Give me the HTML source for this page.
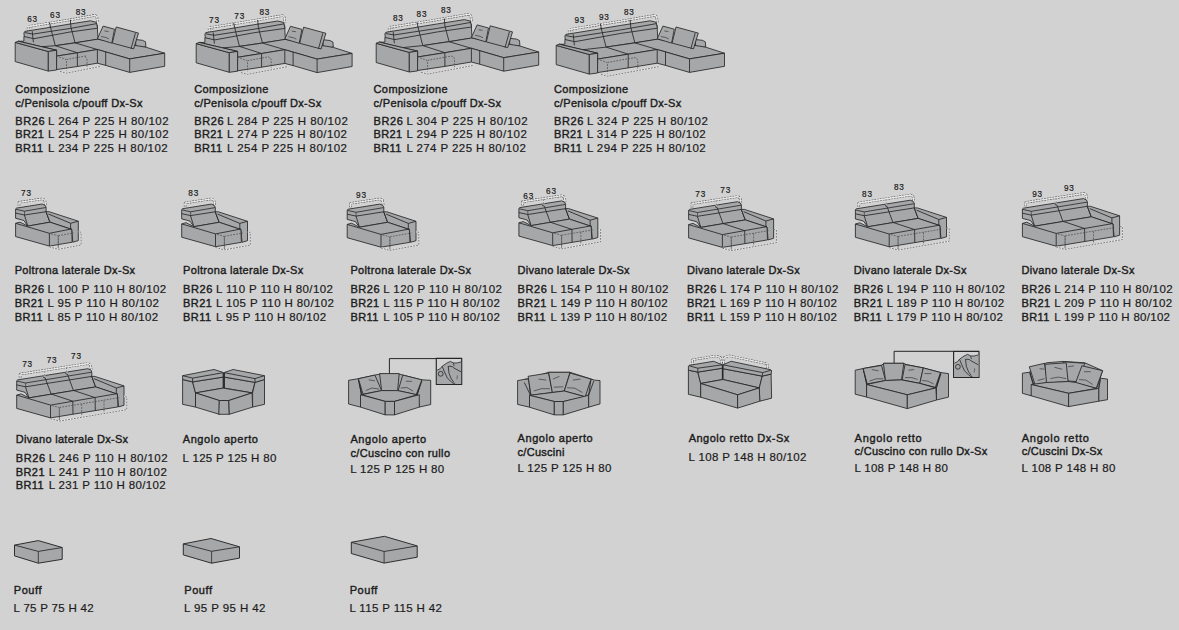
<!DOCTYPE html>
<html><head><meta charset="utf-8"><style>
html,body{margin:0;padding:0;background:#d2d2d2;}
body{width:1179px;height:630px;overflow:hidden;position:relative;}
svg{position:absolute;left:0;top:0;}
text{font-family:"Liberation Sans",sans-serif;fill:#1c1c1c;}
</style></head><body>
<svg width="1179" height="630" viewBox="0 0 1179 630">
<polyline points="28.3,31.5 28.1,26.5 49.0,23.2 70.0,19.8 93.5,15.6 95.5,15.5 96.8,17.0 97.6,22.5" fill="none" stroke="#555" stroke-width="2.5" stroke-dasharray="1.8 1.0" stroke-linejoin="round"/>
<polyline points="28.3,31.5 28.1,26.5 49.0,23.2 70.0,19.8 93.5,15.6 95.5,15.5 96.8,17.0 97.6,22.5" fill="none" stroke="#e8e8e8" stroke-width="1.3000000000000003" stroke-linejoin="round"/>
<polyline points="31.9,31.5 31.8,27.2" fill="none" stroke="#e6e6e6" stroke-width="1.5" stroke-linejoin="round"/>
<polyline points="31.9,31.5 31.8,27.2" fill="none" stroke="#484848" stroke-width="0.7" stroke-dasharray="1.8 1.2" stroke-linejoin="round"/>
<polyline points="49.5,22.8 50.0,28.0" fill="none" stroke="#e6e6e6" stroke-width="1.5" stroke-linejoin="round"/>
<polyline points="49.5,22.8 50.0,28.0" fill="none" stroke="#484848" stroke-width="0.7" stroke-dasharray="1.8 1.2" stroke-linejoin="round"/>
<polyline points="70.3,19.8 70.8,25.5" fill="none" stroke="#e6e6e6" stroke-width="1.5" stroke-linejoin="round"/>
<polyline points="70.3,19.8 70.8,25.5" fill="none" stroke="#484848" stroke-width="0.7" stroke-dasharray="1.8 1.2" stroke-linejoin="round"/>
<polygon points="23.9,36.5 49.0,32.5 70.0,29.5 97.2,25.0 98.0,39.3 55.3,45.7 56.6,50.2 18.1,41.2 23.9,41.2" fill="#a6a7a9" stroke="#262626" stroke-width="0.85" stroke-linejoin="round" />
<polygon points="23.9,33.0 24.8,31.4 49.0,27.5 70.0,24.0 90.5,20.8 96.3,22.3 97.6,28.2 70.0,32.0 33.8,38.7 24.3,36.6" fill="#a6a7a9" stroke="#262626" stroke-width="0.85" stroke-linejoin="round" />
<polyline points="24.8,32.6 33.0,34.1 49.0,31.6 70.0,28.5 96.8,23.6" fill="none" stroke="#262626" stroke-width="0.85" stroke-linejoin="round" />
<polyline points="32.2,31.2 33.4,42.4" fill="none" stroke="#262626" stroke-width="0.85" stroke-linejoin="round" />
<polyline points="49.6,22.5 51.3,30.5 55.3,45.7" fill="none" stroke="#262626" stroke-width="0.85" stroke-linejoin="round" />
<polyline points="70.3,19.8 71.0,27.5 75.1,42.9" fill="none" stroke="#262626" stroke-width="0.85" stroke-linejoin="round" />
<polygon points="135.5,39.5 142.5,40.3 145.5,41.8 145.9,46.8 135.9,48.5" fill="#a6a7a9" stroke="#262626" stroke-width="0.85" stroke-linejoin="round" />
<polygon points="56.6,50.2 42.0,46.7 55.3,45.7 75.1,42.9 97.5,39.2 145.9,47.2 164.7,53.2 129.7,58.9 97.4,49.5 77.4,52.8 56.6,56.1" fill="#a6a7a9" stroke="#262626" stroke-width="0.85" stroke-linejoin="round" />
<polyline points="55.3,45.7 77.4,52.8" fill="none" stroke="#262626" stroke-width="0.85" stroke-linejoin="round" />
<polyline points="75.1,42.9 97.4,49.5" fill="none" stroke="#262626" stroke-width="0.85" stroke-linejoin="round" />
<polygon points="56.6,56.1 77.4,52.8 97.4,49.5 129.7,58.9 164.7,53.2 164.7,66.3 129.7,72.4 105.7,65.4 97.4,63.2 77.4,66.5 56.4,69.6" fill="#a6a7a9" stroke="#262626" stroke-width="0.85" stroke-linejoin="round" />
<polyline points="77.4,52.8 77.4,66.5" fill="none" stroke="#262626" stroke-width="0.85" stroke-linejoin="round" />
<polyline points="97.4,49.5 97.4,63.2" fill="none" stroke="#262626" stroke-width="0.85" stroke-linejoin="round" />
<polyline points="105.7,51.9 105.7,65.4" fill="none" stroke="#262626" stroke-width="0.85" stroke-linejoin="round" />
<polyline points="129.7,58.9 129.7,72.4" fill="none" stroke="#262626" stroke-width="0.85" stroke-linejoin="round" />
<polygon points="15.2,42.4 48.3,51.5 48.3,71.1 15.2,61.6" fill="#a6a7a9" stroke="#262626" stroke-width="0.85" stroke-linejoin="round" />
<polygon points="15.2,42.4 18.1,41.2 56.6,50.2 48.3,51.5" fill="#a6a7a9" stroke="#262626" stroke-width="0.85" stroke-linejoin="round" />
<polygon points="48.3,51.5 56.6,50.2 56.6,70.0 48.3,71.1" fill="#a6a7a9" stroke="#262626" stroke-width="0.85" stroke-linejoin="round" />
<polygon points="103.1,26.1 114.5,29.2 111.8,43.1 97.4,38.8" fill="#a6a7a9" stroke="#262626" stroke-width="0.85" stroke-linejoin="round" />
<polyline points="104.5,31.0 108.5,31.5" fill="none" stroke="#262626" stroke-width="0.6" stroke-linejoin="round" />
<polyline points="101.0,36.5 106.0,37.5 109.0,39.0" fill="none" stroke="#262626" stroke-width="0.6" stroke-linejoin="round" />
<polygon points="116.2,27.0 138.5,33.1 133.7,48.8 112.3,43.1" fill="#a6a7a9" stroke="#262626" stroke-width="0.85" stroke-linejoin="round" />
<polyline points="135.4,33.1 131.0,48.8" fill="none" stroke="#262626" stroke-width="0.85" stroke-linejoin="round" />
<polyline points="59.2,57.0 65.5,59.2 66.5,60.5 66.5,70.5" fill="none" stroke="#484848" stroke-width="0.7" stroke-dasharray="1.8 1.2" stroke-linejoin="round"/>
<polyline points="60.0,71.4 66.5,73.2 100.0,66.5" fill="none" stroke="#e6e6e6" stroke-width="1.5" stroke-linejoin="round"/>
<polyline points="60.0,71.4 66.5,73.2 100.0,66.5" fill="none" stroke="#484848" stroke-width="0.7" stroke-dasharray="1.8 1.2" stroke-linejoin="round"/>
<polyline points="66.5,59.5 85.5,56.0 84.5,56.2 86.3,57.5 87.0,59.2 87.0,67.2" fill="none" stroke="#484848" stroke-width="0.7" stroke-dasharray="1.8 1.2" stroke-linejoin="round"/>
<text x="27.2" y="21.8" font-size="8.2" stroke="#1c1c1c" stroke-width="0.2" textLength="9.9" lengthAdjust="spacing">63</text>
<text x="50.1" y="17.6" font-size="8.2" stroke="#1c1c1c" stroke-width="0.2" textLength="9.9" lengthAdjust="spacing">63</text>
<text x="75.7" y="14.9" font-size="8.2" stroke="#1c1c1c" stroke-width="0.2" textLength="9.9" lengthAdjust="spacing">83</text>
<polyline points="209.3,32.7 209.1,27.7 230.0,24.4 254.2,20.5 280.9,15.8 282.9,15.7 284.2,17.2 285.0,22.7" fill="none" stroke="#555" stroke-width="2.5" stroke-dasharray="1.8 1.0" stroke-linejoin="round"/>
<polyline points="209.3,32.7 209.1,27.7 230.0,24.4 254.2,20.5 280.9,15.8 282.9,15.7 284.2,17.2 285.0,22.7" fill="none" stroke="#e8e8e8" stroke-width="1.3000000000000003" stroke-linejoin="round"/>
<polyline points="212.9,32.7 212.8,28.4" fill="none" stroke="#e6e6e6" stroke-width="1.5" stroke-linejoin="round"/>
<polyline points="212.9,32.7 212.8,28.4" fill="none" stroke="#484848" stroke-width="0.7" stroke-dasharray="1.8 1.2" stroke-linejoin="round"/>
<polyline points="233.7,23.5 234.2,28.7" fill="none" stroke="#e6e6e6" stroke-width="1.5" stroke-linejoin="round"/>
<polyline points="233.7,23.5 234.2,28.7" fill="none" stroke="#484848" stroke-width="0.7" stroke-dasharray="1.8 1.2" stroke-linejoin="round"/>
<polyline points="257.7,20.0 258.2,25.7" fill="none" stroke="#e6e6e6" stroke-width="1.5" stroke-linejoin="round"/>
<polyline points="257.7,20.0 258.2,25.7" fill="none" stroke="#484848" stroke-width="0.7" stroke-dasharray="1.8 1.2" stroke-linejoin="round"/>
<polygon points="204.9,37.7 230.0,33.7 254.2,30.2 284.6,25.2 285.4,39.5 239.5,46.4 237.6,51.4 199.1,42.4 204.9,42.4" fill="#a6a7a9" stroke="#262626" stroke-width="0.85" stroke-linejoin="round" />
<polygon points="204.9,34.2 205.8,32.6 230.0,28.7 254.2,24.7 277.9,21.0 283.7,22.5 285.0,28.4 254.2,32.7 214.8,39.9 205.3,37.8" fill="#a6a7a9" stroke="#262626" stroke-width="0.85" stroke-linejoin="round" />
<polyline points="205.8,33.8 214.0,35.3 230.0,32.8 254.2,29.2 284.2,23.8" fill="none" stroke="#262626" stroke-width="0.85" stroke-linejoin="round" />
<polyline points="213.2,32.4 214.4,43.6" fill="none" stroke="#262626" stroke-width="0.85" stroke-linejoin="round" />
<polyline points="233.8,23.2 235.5,31.2 239.5,46.4" fill="none" stroke="#262626" stroke-width="0.85" stroke-linejoin="round" />
<polyline points="257.7,20.0 258.4,27.7 262.5,43.1" fill="none" stroke="#262626" stroke-width="0.85" stroke-linejoin="round" />
<polygon points="322.9,39.7 329.9,40.5 332.9,42.0 333.3,47.0 323.3,48.7" fill="#a6a7a9" stroke="#262626" stroke-width="0.85" stroke-linejoin="round" />
<polygon points="237.6,51.4 223.0,47.9 239.5,46.4 262.5,43.1 284.9,39.4 333.3,47.4 352.1,53.4 317.1,59.1 284.8,49.7 261.6,53.5 237.6,57.3" fill="#a6a7a9" stroke="#262626" stroke-width="0.85" stroke-linejoin="round" />
<polyline points="239.5,46.4 261.6,53.5" fill="none" stroke="#262626" stroke-width="0.85" stroke-linejoin="round" />
<polyline points="262.5,43.1 284.8,49.7" fill="none" stroke="#262626" stroke-width="0.85" stroke-linejoin="round" />
<polygon points="237.6,57.3 261.6,53.5 284.8,49.7 317.1,59.1 352.1,53.4 352.1,66.5 317.1,72.6 293.1,65.6 284.8,63.4 261.6,67.2 237.4,70.8" fill="#a6a7a9" stroke="#262626" stroke-width="0.85" stroke-linejoin="round" />
<polyline points="261.6,53.5 261.6,67.2" fill="none" stroke="#262626" stroke-width="0.85" stroke-linejoin="round" />
<polyline points="284.8,49.7 284.8,63.4" fill="none" stroke="#262626" stroke-width="0.85" stroke-linejoin="round" />
<polyline points="293.1,52.1 293.1,65.6" fill="none" stroke="#262626" stroke-width="0.85" stroke-linejoin="round" />
<polyline points="317.1,59.1 317.1,72.6" fill="none" stroke="#262626" stroke-width="0.85" stroke-linejoin="round" />
<polygon points="196.2,43.6 229.3,52.7 229.3,72.3 196.2,62.8" fill="#a6a7a9" stroke="#262626" stroke-width="0.85" stroke-linejoin="round" />
<polygon points="196.2,43.6 199.1,42.4 237.6,51.4 229.3,52.7" fill="#a6a7a9" stroke="#262626" stroke-width="0.85" stroke-linejoin="round" />
<polygon points="229.3,52.7 237.6,51.4 237.6,71.2 229.3,72.3" fill="#a6a7a9" stroke="#262626" stroke-width="0.85" stroke-linejoin="round" />
<polygon points="290.5,26.3 301.9,29.4 299.2,43.3 284.8,39.0" fill="#a6a7a9" stroke="#262626" stroke-width="0.85" stroke-linejoin="round" />
<polyline points="291.9,31.2 295.9,31.7" fill="none" stroke="#262626" stroke-width="0.6" stroke-linejoin="round" />
<polyline points="288.4,36.7 293.4,37.7 296.4,39.2" fill="none" stroke="#262626" stroke-width="0.6" stroke-linejoin="round" />
<polygon points="303.6,27.2 325.9,33.3 321.1,49.0 299.7,43.3" fill="#a6a7a9" stroke="#262626" stroke-width="0.85" stroke-linejoin="round" />
<polyline points="322.8,33.3 318.4,49.0" fill="none" stroke="#262626" stroke-width="0.85" stroke-linejoin="round" />
<polyline points="240.2,58.2 246.5,60.4 247.5,61.7 247.5,71.7" fill="none" stroke="#484848" stroke-width="0.7" stroke-dasharray="1.8 1.2" stroke-linejoin="round"/>
<polyline points="241.0,72.6 247.5,74.4 287.4,66.7" fill="none" stroke="#e6e6e6" stroke-width="1.5" stroke-linejoin="round"/>
<polyline points="241.0,72.6 247.5,74.4 287.4,66.7" fill="none" stroke="#484848" stroke-width="0.7" stroke-dasharray="1.8 1.2" stroke-linejoin="round"/>
<polyline points="247.5,60.7 266.5,57.2 268.7,56.9 270.5,58.2 271.2,59.9 271.2,67.9" fill="none" stroke="#484848" stroke-width="0.7" stroke-dasharray="1.8 1.2" stroke-linejoin="round"/>
<text x="209.1" y="22.6" font-size="8.2" stroke="#1c1c1c" stroke-width="0.2" textLength="9.9" lengthAdjust="spacing">73</text>
<text x="234.3" y="19.0" font-size="8.2" stroke="#1c1c1c" stroke-width="0.2" textLength="9.9" lengthAdjust="spacing">73</text>
<text x="259.5" y="14.5" font-size="8.2" stroke="#1c1c1c" stroke-width="0.2" textLength="9.9" lengthAdjust="spacing">83</text>
<polyline points="389.3,32.4 389.1,27.4 410.0,24.1 437.5,19.7 467.5,14.4 469.5,14.3 470.8,15.8 471.6,21.3" fill="none" stroke="#555" stroke-width="2.5" stroke-dasharray="1.8 1.0" stroke-linejoin="round"/>
<polyline points="389.3,32.4 389.1,27.4 410.0,24.1 437.5,19.7 467.5,14.4 469.5,14.3 470.8,15.8 471.6,21.3" fill="none" stroke="#e8e8e8" stroke-width="1.3000000000000003" stroke-linejoin="round"/>
<polyline points="392.9,32.4 392.8,28.1" fill="none" stroke="#e6e6e6" stroke-width="1.5" stroke-linejoin="round"/>
<polyline points="392.9,32.4 392.8,28.1" fill="none" stroke="#484848" stroke-width="0.7" stroke-dasharray="1.8 1.2" stroke-linejoin="round"/>
<polyline points="417.0,22.7 417.5,27.9" fill="none" stroke="#e6e6e6" stroke-width="1.5" stroke-linejoin="round"/>
<polyline points="417.0,22.7 417.5,27.9" fill="none" stroke="#484848" stroke-width="0.7" stroke-dasharray="1.8 1.2" stroke-linejoin="round"/>
<polyline points="444.3,18.6 444.8,24.3" fill="none" stroke="#e6e6e6" stroke-width="1.5" stroke-linejoin="round"/>
<polyline points="444.3,18.6 444.8,24.3" fill="none" stroke="#484848" stroke-width="0.7" stroke-dasharray="1.8 1.2" stroke-linejoin="round"/>
<polygon points="384.9,37.4 410.0,33.4 437.5,29.4 471.2,23.8 472.0,38.1 422.8,45.6 417.6,51.1 379.1,42.1 384.9,42.1" fill="#a6a7a9" stroke="#262626" stroke-width="0.85" stroke-linejoin="round" />
<polygon points="384.9,33.9 385.8,32.3 410.0,28.4 437.5,23.9 464.5,19.6 470.3,21.1 471.6,27.0 437.5,31.9 394.8,39.6 385.3,37.5" fill="#a6a7a9" stroke="#262626" stroke-width="0.85" stroke-linejoin="round" />
<polyline points="385.8,33.5 394.0,35.0 410.0,32.5 437.5,28.4 470.8,22.4" fill="none" stroke="#262626" stroke-width="0.85" stroke-linejoin="round" />
<polyline points="393.2,32.1 394.4,43.3" fill="none" stroke="#262626" stroke-width="0.85" stroke-linejoin="round" />
<polyline points="417.1,22.4 418.8,30.4 422.8,45.6" fill="none" stroke="#262626" stroke-width="0.85" stroke-linejoin="round" />
<polyline points="444.3,18.6 445.0,26.3 449.1,41.7" fill="none" stroke="#262626" stroke-width="0.85" stroke-linejoin="round" />
<polygon points="509.5,38.3 516.5,39.1 519.5,40.6 519.9,45.6 509.9,47.3" fill="#a6a7a9" stroke="#262626" stroke-width="0.85" stroke-linejoin="round" />
<polygon points="417.6,51.1 403.0,47.6 422.8,45.6 449.1,41.7 471.5,38.0 519.9,46.0 538.7,52.0 503.7,57.7 471.4,48.3 444.9,52.7 417.6,57.0" fill="#a6a7a9" stroke="#262626" stroke-width="0.85" stroke-linejoin="round" />
<polyline points="422.8,45.6 444.9,52.7" fill="none" stroke="#262626" stroke-width="0.85" stroke-linejoin="round" />
<polyline points="449.1,41.7 471.4,48.3" fill="none" stroke="#262626" stroke-width="0.85" stroke-linejoin="round" />
<polygon points="417.6,57.0 444.9,52.7 471.4,48.3 503.7,57.7 538.7,52.0 538.7,65.1 503.7,71.2 479.7,64.2 471.4,62.0 444.9,66.4 417.4,70.5" fill="#a6a7a9" stroke="#262626" stroke-width="0.85" stroke-linejoin="round" />
<polyline points="444.9,52.7 444.9,66.4" fill="none" stroke="#262626" stroke-width="0.85" stroke-linejoin="round" />
<polyline points="471.4,48.3 471.4,62.0" fill="none" stroke="#262626" stroke-width="0.85" stroke-linejoin="round" />
<polyline points="479.7,50.7 479.7,64.2" fill="none" stroke="#262626" stroke-width="0.85" stroke-linejoin="round" />
<polyline points="503.7,57.7 503.7,71.2" fill="none" stroke="#262626" stroke-width="0.85" stroke-linejoin="round" />
<polygon points="376.2,43.3 409.3,52.4 409.3,72.0 376.2,62.5" fill="#a6a7a9" stroke="#262626" stroke-width="0.85" stroke-linejoin="round" />
<polygon points="376.2,43.3 379.1,42.1 417.6,51.1 409.3,52.4" fill="#a6a7a9" stroke="#262626" stroke-width="0.85" stroke-linejoin="round" />
<polygon points="409.3,52.4 417.6,51.1 417.6,70.9 409.3,72.0" fill="#a6a7a9" stroke="#262626" stroke-width="0.85" stroke-linejoin="round" />
<polygon points="477.1,24.9 488.5,28.0 485.8,41.9 471.4,37.6" fill="#a6a7a9" stroke="#262626" stroke-width="0.85" stroke-linejoin="round" />
<polyline points="478.5,29.8 482.5,30.3" fill="none" stroke="#262626" stroke-width="0.6" stroke-linejoin="round" />
<polyline points="475.0,35.3 480.0,36.3 483.0,37.8" fill="none" stroke="#262626" stroke-width="0.6" stroke-linejoin="round" />
<polygon points="490.2,25.8 512.5,31.9 507.7,47.6 486.3,41.9" fill="#a6a7a9" stroke="#262626" stroke-width="0.85" stroke-linejoin="round" />
<polyline points="509.4,31.9 505.0,47.6" fill="none" stroke="#262626" stroke-width="0.85" stroke-linejoin="round" />
<polyline points="420.2,57.9 426.5,60.1 427.5,61.4 427.5,71.4" fill="none" stroke="#484848" stroke-width="0.7" stroke-dasharray="1.8 1.2" stroke-linejoin="round"/>
<polyline points="421.0,72.3 427.5,74.1 474.0,65.3" fill="none" stroke="#e6e6e6" stroke-width="1.5" stroke-linejoin="round"/>
<polyline points="421.0,72.3 427.5,74.1 474.0,65.3" fill="none" stroke="#484848" stroke-width="0.7" stroke-dasharray="1.8 1.2" stroke-linejoin="round"/>
<polyline points="427.5,60.4 446.5,56.9 452.0,56.1 453.8,57.4 454.5,59.1 454.5,67.1" fill="none" stroke="#484848" stroke-width="0.7" stroke-dasharray="1.8 1.2" stroke-linejoin="round"/>
<text x="392.9" y="21.0" font-size="8.2" stroke="#1c1c1c" stroke-width="0.2" textLength="9.9" lengthAdjust="spacing">83</text>
<text x="416.6" y="17.2" font-size="8.2" stroke="#1c1c1c" stroke-width="0.2" textLength="9.9" lengthAdjust="spacing">83</text>
<text x="441.0" y="12.9" font-size="8.2" stroke="#1c1c1c" stroke-width="0.2" textLength="9.9" lengthAdjust="spacing">83</text>
<polyline points="19.0,206.1 19.0,202.3 42.5,198.8 44.8,200.3 45.6,205.3" fill="none" stroke="#555" stroke-width="2.5" stroke-dasharray="1.8 1.0" stroke-linejoin="round"/>
<polyline points="19.0,206.1 19.0,202.3 42.5,198.8 44.8,200.3 45.6,205.3" fill="none" stroke="#e8e8e8" stroke-width="1.3000000000000003" stroke-linejoin="round"/>
<polygon points="15.6,208.9 16.5,208.1 42.1,204.0 45.1,205.3 46.1,207.3 46.1,211.7 50.0,222.2 27.8,226.1 23.9,220.6 21.1,219.7 15.6,218.3" fill="#a6a7a9" stroke="#262626" stroke-width="0.85" stroke-linejoin="round" />
<polyline points="15.6,213.1 24.5,215.0 46.1,211.7" fill="none" stroke="#262626" stroke-width="0.85" stroke-linejoin="round" />
<polyline points="15.9,209.3 24.5,211.2 45.9,207.5" fill="none" stroke="#262626" stroke-width="0.8" stroke-linejoin="round" />
<polyline points="24.4,215.0 27.8,226.1" fill="none" stroke="#262626" stroke-width="0.85" stroke-linejoin="round" />
<polyline points="24.5,211.2 24.5,215.0" fill="none" stroke="#262626" stroke-width="0.6" stroke-linejoin="round" />
<polyline points="46.1,211.7 50.0,222.2" fill="none" stroke="#262626" stroke-width="0.85" stroke-linejoin="round" />
<polygon points="46.1,211.7 49.1,211.7 78.3,221.2 78.3,240.6 72.8,242.2 71.7,229.4 50.0,222.2" fill="#a6a7a9" stroke="#262626" stroke-width="0.85" stroke-linejoin="round" />
<polyline points="48.4,214.0 70.6,223.3 78.3,221.2" fill="none" stroke="#262626" stroke-width="0.85" stroke-linejoin="round" />
<polyline points="70.6,223.3 70.6,229.8" fill="none" stroke="#262626" stroke-width="0.85" stroke-linejoin="round" />
<polygon points="15.6,223.3 20.0,222.1 27.8,226.1 50.0,222.2 71.7,229.4 72.2,242.2 49.4,246.1 15.6,236.6" fill="#a6a7a9" stroke="#262626" stroke-width="0.85" stroke-linejoin="round" />
<polyline points="15.6,223.3 49.4,233.3 71.7,228.9" fill="none" stroke="#262626" stroke-width="0.85" stroke-linejoin="round" />
<polyline points="49.4,233.3 49.4,246.1" fill="none" stroke="#262626" stroke-width="0.85" stroke-linejoin="round" />
<polyline points="58.3,235.9 58.3,248.3" fill="none" stroke="#484848" stroke-width="0.7" stroke-dasharray="1.8 1.2" stroke-linejoin="round"/>
<polyline points="51.1,233.9 57.2,235.4 58.3,236.8 58.3,248.3" fill="none" stroke="#484848" stroke-width="0.7" stroke-dasharray="1.8 1.2" stroke-linejoin="round"/>
<polyline points="49.4,246.9 58.3,249.3 81.1,245.0 81.1,232.3 78.6,231.6" fill="none" stroke="#e6e6e6" stroke-width="1.5" stroke-linejoin="round"/>
<polyline points="49.4,246.9 58.3,249.3 81.1,245.0 81.1,232.3 78.6,231.6" fill="none" stroke="#484848" stroke-width="0.7" stroke-dasharray="1.8 1.2" stroke-linejoin="round"/>
<polyline points="58.3,235.7 73.6,232.9" fill="none" stroke="#484848" stroke-width="0.7" stroke-dasharray="1.8 1.2" stroke-linejoin="round"/>
<text x="21.1" y="196.1" font-size="8.2" stroke="#1c1c1c" stroke-width="0.2" textLength="9.9" lengthAdjust="spacing">73</text>
<polyline points="185.1,206.7 185.1,202.9 211.7,198.9 214.0,200.4 214.8,205.4" fill="none" stroke="#555" stroke-width="2.5" stroke-dasharray="1.8 1.0" stroke-linejoin="round"/>
<polyline points="185.1,206.7 185.1,202.9 211.7,198.9 214.0,200.4 214.8,205.4" fill="none" stroke="#e8e8e8" stroke-width="1.3000000000000003" stroke-linejoin="round"/>
<polygon points="181.7,209.5 182.6,208.7 211.3,204.1 214.3,205.4 215.3,207.4 215.3,211.8 219.2,222.3 193.9,226.7 190.0,221.2 187.2,220.3 181.7,218.9" fill="#a6a7a9" stroke="#262626" stroke-width="0.85" stroke-linejoin="round" />
<polyline points="181.7,213.7 190.6,215.6 215.3,211.8" fill="none" stroke="#262626" stroke-width="0.85" stroke-linejoin="round" />
<polyline points="182.0,209.9 190.6,211.8 215.1,207.6" fill="none" stroke="#262626" stroke-width="0.8" stroke-linejoin="round" />
<polyline points="190.5,215.6 193.9,226.7" fill="none" stroke="#262626" stroke-width="0.85" stroke-linejoin="round" />
<polyline points="190.6,211.8 190.6,215.6" fill="none" stroke="#262626" stroke-width="0.6" stroke-linejoin="round" />
<polyline points="215.3,211.8 219.2,222.3" fill="none" stroke="#262626" stroke-width="0.85" stroke-linejoin="round" />
<polygon points="215.3,211.8 218.3,211.8 247.5,221.3 247.5,240.7 242.0,242.3 240.9,229.5 219.2,222.3" fill="#a6a7a9" stroke="#262626" stroke-width="0.85" stroke-linejoin="round" />
<polyline points="217.6,214.1 239.8,223.4 247.5,221.3" fill="none" stroke="#262626" stroke-width="0.85" stroke-linejoin="round" />
<polyline points="239.8,223.4 239.8,229.9" fill="none" stroke="#262626" stroke-width="0.85" stroke-linejoin="round" />
<polygon points="181.7,223.9 186.1,222.7 193.9,226.7 219.2,222.3 240.9,229.5 241.4,242.3 215.5,246.7 181.7,237.2" fill="#a6a7a9" stroke="#262626" stroke-width="0.85" stroke-linejoin="round" />
<polyline points="181.7,223.9 215.5,233.9 240.9,229.0" fill="none" stroke="#262626" stroke-width="0.85" stroke-linejoin="round" />
<polyline points="215.5,233.9 215.5,246.7" fill="none" stroke="#262626" stroke-width="0.85" stroke-linejoin="round" />
<polyline points="224.4,236.5 224.4,248.9" fill="none" stroke="#484848" stroke-width="0.7" stroke-dasharray="1.8 1.2" stroke-linejoin="round"/>
<polyline points="217.2,234.5 223.3,236.0 224.4,237.4 224.4,248.9" fill="none" stroke="#484848" stroke-width="0.7" stroke-dasharray="1.8 1.2" stroke-linejoin="round"/>
<polyline points="215.5,247.5 224.4,249.9 250.3,245.1 250.3,232.4 247.8,231.7" fill="none" stroke="#e6e6e6" stroke-width="1.5" stroke-linejoin="round"/>
<polyline points="215.5,247.5 224.4,249.9 250.3,245.1 250.3,232.4 247.8,231.7" fill="none" stroke="#484848" stroke-width="0.7" stroke-dasharray="1.8 1.2" stroke-linejoin="round"/>
<polyline points="224.4,236.3 242.8,233.0" fill="none" stroke="#484848" stroke-width="0.7" stroke-dasharray="1.8 1.2" stroke-linejoin="round"/>
<text x="188.3" y="195.6" font-size="8.2" stroke="#1c1c1c" stroke-width="0.2" textLength="9.9" lengthAdjust="spacing">83</text>
<polyline points="350.6,207.2 350.6,203.4 380.2,198.9 382.5,200.4 383.3,205.4" fill="none" stroke="#555" stroke-width="2.5" stroke-dasharray="1.8 1.0" stroke-linejoin="round"/>
<polyline points="350.6,207.2 350.6,203.4 380.2,198.9 382.5,200.4 383.3,205.4" fill="none" stroke="#e8e8e8" stroke-width="1.3000000000000003" stroke-linejoin="round"/>
<polygon points="347.2,210.0 348.1,209.2 379.8,204.1 382.8,205.4 383.8,207.4 383.8,211.8 387.7,222.3 359.4,227.2 355.5,221.7 352.7,220.8 347.2,219.4" fill="#a6a7a9" stroke="#262626" stroke-width="0.85" stroke-linejoin="round" />
<polyline points="347.2,214.2 356.1,216.1 383.8,211.8" fill="none" stroke="#262626" stroke-width="0.85" stroke-linejoin="round" />
<polyline points="347.5,210.4 356.1,212.3 383.6,207.6" fill="none" stroke="#262626" stroke-width="0.8" stroke-linejoin="round" />
<polyline points="356.0,216.1 359.4,227.2" fill="none" stroke="#262626" stroke-width="0.85" stroke-linejoin="round" />
<polyline points="356.1,212.3 356.1,216.1" fill="none" stroke="#262626" stroke-width="0.6" stroke-linejoin="round" />
<polyline points="383.8,211.8 387.7,222.3" fill="none" stroke="#262626" stroke-width="0.85" stroke-linejoin="round" />
<polygon points="383.8,211.8 386.8,211.8 416.0,221.3 416.0,240.7 410.5,242.3 409.4,229.5 387.7,222.3" fill="#a6a7a9" stroke="#262626" stroke-width="0.85" stroke-linejoin="round" />
<polyline points="386.1,214.1 408.3,223.4 416.0,221.3" fill="none" stroke="#262626" stroke-width="0.85" stroke-linejoin="round" />
<polyline points="408.3,223.4 408.3,229.9" fill="none" stroke="#262626" stroke-width="0.85" stroke-linejoin="round" />
<polygon points="347.2,224.4 351.6,223.2 359.4,227.2 387.7,222.3 409.4,229.5 409.9,242.3 381.0,247.2 347.2,237.7" fill="#a6a7a9" stroke="#262626" stroke-width="0.85" stroke-linejoin="round" />
<polyline points="347.2,224.4 381.0,234.4 409.4,229.0" fill="none" stroke="#262626" stroke-width="0.85" stroke-linejoin="round" />
<polyline points="381.0,234.4 381.0,247.2" fill="none" stroke="#262626" stroke-width="0.85" stroke-linejoin="round" />
<polyline points="389.9,237.0 389.9,249.4" fill="none" stroke="#484848" stroke-width="0.7" stroke-dasharray="1.8 1.2" stroke-linejoin="round"/>
<polyline points="382.7,235.0 388.8,236.5 389.9,237.9 389.9,249.4" fill="none" stroke="#484848" stroke-width="0.7" stroke-dasharray="1.8 1.2" stroke-linejoin="round"/>
<polyline points="381.0,248.0 389.9,250.4 418.8,245.1 418.8,232.4 416.3,231.7" fill="none" stroke="#e6e6e6" stroke-width="1.5" stroke-linejoin="round"/>
<polyline points="381.0,248.0 389.9,250.4 418.8,245.1 418.8,232.4 416.3,231.7" fill="none" stroke="#484848" stroke-width="0.7" stroke-dasharray="1.8 1.2" stroke-linejoin="round"/>
<polyline points="389.9,236.8 411.3,233.0" fill="none" stroke="#484848" stroke-width="0.7" stroke-dasharray="1.8 1.2" stroke-linejoin="round"/>
<text x="356.1" y="197.8" font-size="8.2" stroke="#1c1c1c" stroke-width="0.2" textLength="9.9" lengthAdjust="spacing">93</text>
<polyline points="522.3,205.6 522.3,201.8 562.0,195.7 564.3,197.2 565.1,202.2" fill="none" stroke="#555" stroke-width="2.5" stroke-dasharray="1.8 1.0" stroke-linejoin="round"/>
<polyline points="522.3,205.6 522.3,201.8 562.0,195.7 564.3,197.2 565.1,202.2" fill="none" stroke="#e8e8e8" stroke-width="1.3000000000000003" stroke-linejoin="round"/>
<polygon points="518.9,208.4 519.8,207.6 561.6,200.9 564.6,202.2 565.6,204.2 565.6,208.6 569.5,219.1 531.1,225.6 527.2,220.1 524.4,219.2 518.9,217.8" fill="#a6a7a9" stroke="#262626" stroke-width="0.85" stroke-linejoin="round" />
<polyline points="518.9,212.6 527.8,214.5 565.6,208.6" fill="none" stroke="#262626" stroke-width="0.85" stroke-linejoin="round" />
<polyline points="519.2,208.8 527.8,210.7 565.4,204.4" fill="none" stroke="#262626" stroke-width="0.8" stroke-linejoin="round" />
<polyline points="527.7,214.5 531.1,225.6" fill="none" stroke="#262626" stroke-width="0.85" stroke-linejoin="round" />
<polyline points="527.8,210.7 527.8,214.5" fill="none" stroke="#262626" stroke-width="0.6" stroke-linejoin="round" />
<polyline points="565.6,208.6 569.5,219.1" fill="none" stroke="#262626" stroke-width="0.85" stroke-linejoin="round" />
<polygon points="565.6,208.6 568.6,208.6 597.8,218.1 597.8,237.5 592.3,239.1 591.2,226.3 569.5,219.1" fill="#a6a7a9" stroke="#262626" stroke-width="0.85" stroke-linejoin="round" />
<polyline points="567.9,210.9 590.1,220.2 597.8,218.1" fill="none" stroke="#262626" stroke-width="0.85" stroke-linejoin="round" />
<polyline points="590.1,220.2 590.1,226.7" fill="none" stroke="#262626" stroke-width="0.85" stroke-linejoin="round" />
<polygon points="518.9,222.8 523.3,221.6 531.1,225.6 569.5,219.1 591.2,226.3 591.7,239.1 552.7,245.6 518.9,236.1" fill="#a6a7a9" stroke="#262626" stroke-width="0.85" stroke-linejoin="round" />
<polyline points="518.9,222.8 552.7,232.8 591.2,225.8" fill="none" stroke="#262626" stroke-width="0.85" stroke-linejoin="round" />
<polyline points="552.7,232.8 552.7,245.6" fill="none" stroke="#262626" stroke-width="0.85" stroke-linejoin="round" />
<polyline points="542.2,205.3 544.4,206.3 546.3,211.7 550.2,222.2 571.9,229.4 572.1,242.3" fill="none" stroke="#262626" stroke-width="0.85" stroke-linejoin="round" />
<polyline points="543.2,199.2 543.7,204.3" fill="none" stroke="#e6e6e6" stroke-width="1.5" stroke-linejoin="round"/>
<polyline points="543.2,199.2 543.7,204.3" fill="none" stroke="#484848" stroke-width="0.7" stroke-dasharray="1.8 1.2" stroke-linejoin="round"/>
<polyline points="561.6,235.4 561.6,247.8" fill="none" stroke="#484848" stroke-width="0.7" stroke-dasharray="1.8 1.2" stroke-linejoin="round"/>
<polyline points="554.4,233.4 560.5,234.9 561.6,236.3 561.6,247.8" fill="none" stroke="#484848" stroke-width="0.7" stroke-dasharray="1.8 1.2" stroke-linejoin="round"/>
<polyline points="580.8,232.3 580.8,244.7" fill="none" stroke="#484848" stroke-width="0.7" stroke-dasharray="1.8 1.2" stroke-linejoin="round"/>
<polyline points="552.7,246.4 561.6,248.8 600.6,241.9 600.6,229.2 598.1,228.5" fill="none" stroke="#e6e6e6" stroke-width="1.5" stroke-linejoin="round"/>
<polyline points="552.7,246.4 561.6,248.8 600.6,241.9 600.6,229.2 598.1,228.5" fill="none" stroke="#484848" stroke-width="0.7" stroke-dasharray="1.8 1.2" stroke-linejoin="round"/>
<polyline points="561.6,235.2 593.1,229.8" fill="none" stroke="#484848" stroke-width="0.7" stroke-dasharray="1.8 1.2" stroke-linejoin="round"/>
<text x="523.3" y="198.9" font-size="8.2" stroke="#1c1c1c" stroke-width="0.2" textLength="9.9" lengthAdjust="spacing">63</text>
<text x="546.1" y="193.9" font-size="8.2" stroke="#1c1c1c" stroke-width="0.2" textLength="9.9" lengthAdjust="spacing">63</text>
<polyline points="692.0,207.4 692.0,203.6 737.8,196.5 740.1,198.0 740.9,203.0" fill="none" stroke="#555" stroke-width="2.5" stroke-dasharray="1.8 1.0" stroke-linejoin="round"/>
<polyline points="692.0,207.4 692.0,203.6 737.8,196.5 740.1,198.0 740.9,203.0" fill="none" stroke="#e8e8e8" stroke-width="1.3000000000000003" stroke-linejoin="round"/>
<polygon points="688.6,210.2 689.5,209.4 737.4,201.7 740.4,203.0 741.4,205.0 741.4,209.4 745.3,219.9 700.8,227.4 696.9,221.9 694.1,221.0 688.6,219.6" fill="#a6a7a9" stroke="#262626" stroke-width="0.85" stroke-linejoin="round" />
<polyline points="688.6,214.4 697.5,216.3 741.4,209.4" fill="none" stroke="#262626" stroke-width="0.85" stroke-linejoin="round" />
<polyline points="688.9,210.6 697.5,212.5 741.2,205.2" fill="none" stroke="#262626" stroke-width="0.8" stroke-linejoin="round" />
<polyline points="697.4,216.3 700.8,227.4" fill="none" stroke="#262626" stroke-width="0.85" stroke-linejoin="round" />
<polyline points="697.5,212.5 697.5,216.3" fill="none" stroke="#262626" stroke-width="0.6" stroke-linejoin="round" />
<polyline points="741.4,209.4 745.3,219.9" fill="none" stroke="#262626" stroke-width="0.85" stroke-linejoin="round" />
<polygon points="741.4,209.4 744.4,209.4 773.6,218.9 773.6,238.3 768.1,239.9 767.0,227.1 745.3,219.9" fill="#a6a7a9" stroke="#262626" stroke-width="0.85" stroke-linejoin="round" />
<polyline points="743.7,211.7 765.9,221.0 773.6,218.9" fill="none" stroke="#262626" stroke-width="0.85" stroke-linejoin="round" />
<polyline points="765.9,221.0 765.9,227.5" fill="none" stroke="#262626" stroke-width="0.85" stroke-linejoin="round" />
<polygon points="688.6,224.6 693.0,223.4 700.8,227.4 745.3,219.9 767.0,227.1 767.5,239.9 722.4,247.4 688.6,237.9" fill="#a6a7a9" stroke="#262626" stroke-width="0.85" stroke-linejoin="round" />
<polyline points="688.6,224.6 722.4,234.6 767.0,226.6" fill="none" stroke="#262626" stroke-width="0.85" stroke-linejoin="round" />
<polyline points="722.4,234.6 722.4,247.4" fill="none" stroke="#262626" stroke-width="0.85" stroke-linejoin="round" />
<polyline points="715.0,206.6 717.2,207.6 719.1,213.0 723.0,223.5 744.7,230.7 744.9,243.6" fill="none" stroke="#262626" stroke-width="0.85" stroke-linejoin="round" />
<polyline points="716.0,200.5 716.5,205.6" fill="none" stroke="#e6e6e6" stroke-width="1.5" stroke-linejoin="round"/>
<polyline points="716.0,200.5 716.5,205.6" fill="none" stroke="#484848" stroke-width="0.7" stroke-dasharray="1.8 1.2" stroke-linejoin="round"/>
<polyline points="731.3,237.2 731.3,249.6" fill="none" stroke="#484848" stroke-width="0.7" stroke-dasharray="1.8 1.2" stroke-linejoin="round"/>
<polyline points="724.1,235.2 730.2,236.7 731.3,238.1 731.3,249.6" fill="none" stroke="#484848" stroke-width="0.7" stroke-dasharray="1.8 1.2" stroke-linejoin="round"/>
<polyline points="753.6,233.6 753.6,246.0" fill="none" stroke="#484848" stroke-width="0.7" stroke-dasharray="1.8 1.2" stroke-linejoin="round"/>
<polyline points="722.4,248.2 731.3,250.6 776.4,242.7 776.4,230.0 773.9,229.3" fill="none" stroke="#e6e6e6" stroke-width="1.5" stroke-linejoin="round"/>
<polyline points="722.4,248.2 731.3,250.6 776.4,242.7 776.4,230.0 773.9,229.3" fill="none" stroke="#484848" stroke-width="0.7" stroke-dasharray="1.8 1.2" stroke-linejoin="round"/>
<polyline points="731.3,237.0 768.9,230.6" fill="none" stroke="#484848" stroke-width="0.7" stroke-dasharray="1.8 1.2" stroke-linejoin="round"/>
<text x="695.3" y="196.5" font-size="8.2" stroke="#1c1c1c" stroke-width="0.2" textLength="9.9" lengthAdjust="spacing">73</text>
<text x="720.3" y="192.8" font-size="8.2" stroke="#1c1c1c" stroke-width="0.2" textLength="9.9" lengthAdjust="spacing">73</text>
<polyline points="858.8,206.8 858.8,203.0 910.7,195.0 913.0,196.5 913.8,201.5" fill="none" stroke="#555" stroke-width="2.5" stroke-dasharray="1.8 1.0" stroke-linejoin="round"/>
<polyline points="858.8,206.8 858.8,203.0 910.7,195.0 913.0,196.5 913.8,201.5" fill="none" stroke="#e8e8e8" stroke-width="1.3000000000000003" stroke-linejoin="round"/>
<polygon points="855.4,209.6 856.3,208.8 910.3,200.2 913.3,201.5 914.3,203.5 914.3,207.9 918.2,218.4 867.6,226.8 863.7,221.3 860.9,220.4 855.4,219.0" fill="#a6a7a9" stroke="#262626" stroke-width="0.85" stroke-linejoin="round" />
<polyline points="855.4,213.8 864.3,215.7 914.3,207.9" fill="none" stroke="#262626" stroke-width="0.85" stroke-linejoin="round" />
<polyline points="855.7,210.0 864.3,211.9 914.1,203.7" fill="none" stroke="#262626" stroke-width="0.8" stroke-linejoin="round" />
<polyline points="864.2,215.7 867.6,226.8" fill="none" stroke="#262626" stroke-width="0.85" stroke-linejoin="round" />
<polyline points="864.3,211.9 864.3,215.7" fill="none" stroke="#262626" stroke-width="0.6" stroke-linejoin="round" />
<polyline points="914.3,207.9 918.2,218.4" fill="none" stroke="#262626" stroke-width="0.85" stroke-linejoin="round" />
<polygon points="914.3,207.9 917.3,207.9 946.5,217.4 946.5,236.8 941.0,238.4 939.9,225.6 918.2,218.4" fill="#a6a7a9" stroke="#262626" stroke-width="0.85" stroke-linejoin="round" />
<polyline points="916.6,210.2 938.8,219.5 946.5,217.4" fill="none" stroke="#262626" stroke-width="0.85" stroke-linejoin="round" />
<polyline points="938.8,219.5 938.8,226.0" fill="none" stroke="#262626" stroke-width="0.85" stroke-linejoin="round" />
<polygon points="855.4,224.0 859.8,222.8 867.6,226.8 918.2,218.4 939.9,225.6 940.4,238.4 889.2,246.8 855.4,237.3" fill="#a6a7a9" stroke="#262626" stroke-width="0.85" stroke-linejoin="round" />
<polyline points="855.4,224.0 889.2,234.0 939.9,225.1" fill="none" stroke="#262626" stroke-width="0.85" stroke-linejoin="round" />
<polyline points="889.2,234.0 889.2,246.8" fill="none" stroke="#262626" stroke-width="0.85" stroke-linejoin="round" />
<polyline points="884.9,205.5 887.1,206.5 889.0,211.9 892.9,222.4 914.6,229.6 914.8,242.5" fill="none" stroke="#262626" stroke-width="0.85" stroke-linejoin="round" />
<polyline points="885.9,199.4 886.4,204.5" fill="none" stroke="#e6e6e6" stroke-width="1.5" stroke-linejoin="round"/>
<polyline points="885.9,199.4 886.4,204.5" fill="none" stroke="#484848" stroke-width="0.7" stroke-dasharray="1.8 1.2" stroke-linejoin="round"/>
<polyline points="898.1,236.6 898.1,249.0" fill="none" stroke="#484848" stroke-width="0.7" stroke-dasharray="1.8 1.2" stroke-linejoin="round"/>
<polyline points="890.9,234.6 897.0,236.1 898.1,237.5 898.1,249.0" fill="none" stroke="#484848" stroke-width="0.7" stroke-dasharray="1.8 1.2" stroke-linejoin="round"/>
<polyline points="923.5,232.5 923.5,244.9" fill="none" stroke="#484848" stroke-width="0.7" stroke-dasharray="1.8 1.2" stroke-linejoin="round"/>
<polyline points="889.2,247.6 898.1,250.0 949.3,241.2 949.3,228.5 946.8,227.8" fill="none" stroke="#e6e6e6" stroke-width="1.5" stroke-linejoin="round"/>
<polyline points="889.2,247.6 898.1,250.0 949.3,241.2 949.3,228.5 946.8,227.8" fill="none" stroke="#484848" stroke-width="0.7" stroke-dasharray="1.8 1.2" stroke-linejoin="round"/>
<polyline points="898.1,236.4 941.8,229.1" fill="none" stroke="#484848" stroke-width="0.7" stroke-dasharray="1.8 1.2" stroke-linejoin="round"/>
<text x="862.1" y="196.5" font-size="8.2" stroke="#1c1c1c" stroke-width="0.2" textLength="9.9" lengthAdjust="spacing">83</text>
<text x="893.9" y="190.4" font-size="8.2" stroke="#1c1c1c" stroke-width="0.2" textLength="9.9" lengthAdjust="spacing">83</text>
<polyline points="1025.8,206.2 1025.8,202.4 1083.8,193.4 1086.1,194.9 1086.9,199.9" fill="none" stroke="#555" stroke-width="2.5" stroke-dasharray="1.8 1.0" stroke-linejoin="round"/>
<polyline points="1025.8,206.2 1025.8,202.4 1083.8,193.4 1086.1,194.9 1086.9,199.9" fill="none" stroke="#e8e8e8" stroke-width="1.3000000000000003" stroke-linejoin="round"/>
<polygon points="1022.4,209.0 1023.3,208.2 1083.4,198.6 1086.4,199.9 1087.4,201.9 1087.4,206.3 1091.3,216.8 1034.6,226.2 1030.7,220.7 1027.9,219.8 1022.4,218.4" fill="#a6a7a9" stroke="#262626" stroke-width="0.85" stroke-linejoin="round" />
<polyline points="1022.4,213.2 1031.3,215.1 1087.4,206.3" fill="none" stroke="#262626" stroke-width="0.85" stroke-linejoin="round" />
<polyline points="1022.7,209.4 1031.3,211.3 1087.2,202.1" fill="none" stroke="#262626" stroke-width="0.8" stroke-linejoin="round" />
<polyline points="1031.2,215.1 1034.6,226.2" fill="none" stroke="#262626" stroke-width="0.85" stroke-linejoin="round" />
<polyline points="1031.3,211.3 1031.3,215.1" fill="none" stroke="#262626" stroke-width="0.6" stroke-linejoin="round" />
<polyline points="1087.4,206.3 1091.3,216.8" fill="none" stroke="#262626" stroke-width="0.85" stroke-linejoin="round" />
<polygon points="1087.4,206.3 1090.4,206.3 1119.6,215.8 1119.6,235.2 1114.1,236.8 1113.0,224.0 1091.3,216.8" fill="#a6a7a9" stroke="#262626" stroke-width="0.85" stroke-linejoin="round" />
<polyline points="1089.7,208.6 1111.9,217.9 1119.6,215.8" fill="none" stroke="#262626" stroke-width="0.85" stroke-linejoin="round" />
<polyline points="1111.9,217.9 1111.9,224.4" fill="none" stroke="#262626" stroke-width="0.85" stroke-linejoin="round" />
<polygon points="1022.4,223.4 1026.8,222.2 1034.6,226.2 1091.3,216.8 1113.0,224.0 1113.5,236.8 1056.2,246.2 1022.4,236.7" fill="#a6a7a9" stroke="#262626" stroke-width="0.85" stroke-linejoin="round" />
<polyline points="1022.4,223.4 1056.2,233.4 1113.0,223.5" fill="none" stroke="#262626" stroke-width="0.85" stroke-linejoin="round" />
<polyline points="1056.2,233.4 1056.2,246.2" fill="none" stroke="#262626" stroke-width="0.85" stroke-linejoin="round" />
<polyline points="1054.9,204.4 1057.1,205.4 1059.0,210.8 1062.9,221.3 1084.6,228.5 1084.8,241.4" fill="none" stroke="#262626" stroke-width="0.85" stroke-linejoin="round" />
<polyline points="1055.9,198.3 1056.4,203.4" fill="none" stroke="#e6e6e6" stroke-width="1.5" stroke-linejoin="round"/>
<polyline points="1055.9,198.3 1056.4,203.4" fill="none" stroke="#484848" stroke-width="0.7" stroke-dasharray="1.8 1.2" stroke-linejoin="round"/>
<polyline points="1065.1,236.0 1065.1,248.4" fill="none" stroke="#484848" stroke-width="0.7" stroke-dasharray="1.8 1.2" stroke-linejoin="round"/>
<polyline points="1057.9,234.0 1064.0,235.5 1065.1,236.9 1065.1,248.4" fill="none" stroke="#484848" stroke-width="0.7" stroke-dasharray="1.8 1.2" stroke-linejoin="round"/>
<polyline points="1093.5,231.5 1093.5,243.9" fill="none" stroke="#484848" stroke-width="0.7" stroke-dasharray="1.8 1.2" stroke-linejoin="round"/>
<polyline points="1056.2,247.0 1065.1,249.4 1122.4,239.6 1122.4,226.9 1119.9,226.2" fill="none" stroke="#e6e6e6" stroke-width="1.5" stroke-linejoin="round"/>
<polyline points="1056.2,247.0 1065.1,249.4 1122.4,239.6 1122.4,226.9 1119.9,226.2" fill="none" stroke="#484848" stroke-width="0.7" stroke-dasharray="1.8 1.2" stroke-linejoin="round"/>
<polyline points="1065.1,235.8 1114.9,227.5" fill="none" stroke="#484848" stroke-width="0.7" stroke-dasharray="1.8 1.2" stroke-linejoin="round"/>
<text x="1032.2" y="196.5" font-size="8.2" stroke="#1c1c1c" stroke-width="0.2" textLength="9.9" lengthAdjust="spacing">93</text>
<text x="1064.0" y="191.0" font-size="8.2" stroke="#1c1c1c" stroke-width="0.2" textLength="9.9" lengthAdjust="spacing">93</text>
<polyline points="20.1,377.9 20.1,374.1 88.2,363.5 90.5,365.0 91.3,370.0" fill="none" stroke="#555" stroke-width="2.5" stroke-dasharray="1.8 1.0" stroke-linejoin="round"/>
<polyline points="20.1,377.9 20.1,374.1 88.2,363.5 90.5,365.0 91.3,370.0" fill="none" stroke="#e8e8e8" stroke-width="1.3000000000000003" stroke-linejoin="round"/>
<polygon points="16.7,380.7 17.6,379.9 87.8,368.7 90.8,370.0 91.8,372.0 91.8,376.4 95.7,386.9 28.9,397.9 25.0,392.4 22.2,391.5 16.7,390.1" fill="#a6a7a9" stroke="#262626" stroke-width="0.85" stroke-linejoin="round" />
<polyline points="16.7,384.9 25.6,386.8 91.8,376.4" fill="none" stroke="#262626" stroke-width="0.85" stroke-linejoin="round" />
<polyline points="17.0,381.1 25.6,383.0 91.6,372.2" fill="none" stroke="#262626" stroke-width="0.8" stroke-linejoin="round" />
<polyline points="25.5,386.8 28.9,397.9" fill="none" stroke="#262626" stroke-width="0.85" stroke-linejoin="round" />
<polyline points="25.6,383.0 25.6,386.8" fill="none" stroke="#262626" stroke-width="0.6" stroke-linejoin="round" />
<polyline points="91.8,376.4 95.7,386.9" fill="none" stroke="#262626" stroke-width="0.85" stroke-linejoin="round" />
<polygon points="91.8,376.4 94.8,376.4 124.0,385.9 124.0,405.3 118.5,406.9 117.4,394.1 95.7,386.9" fill="#a6a7a9" stroke="#262626" stroke-width="0.85" stroke-linejoin="round" />
<polyline points="94.1,378.7 116.3,388.0 124.0,385.9" fill="none" stroke="#262626" stroke-width="0.85" stroke-linejoin="round" />
<polyline points="116.3,388.0 116.3,394.5" fill="none" stroke="#262626" stroke-width="0.85" stroke-linejoin="round" />
<polygon points="16.7,395.1 21.1,393.9 28.9,397.9 95.7,386.9 117.4,394.1 117.9,406.9 50.5,417.9 16.7,408.4" fill="#a6a7a9" stroke="#262626" stroke-width="0.85" stroke-linejoin="round" />
<polyline points="16.7,395.1 50.5,405.1 117.4,393.6" fill="none" stroke="#262626" stroke-width="0.85" stroke-linejoin="round" />
<polyline points="50.5,405.1 50.5,417.9" fill="none" stroke="#262626" stroke-width="0.85" stroke-linejoin="round" />
<polyline points="43.1,377.1 45.3,378.1 47.2,383.5 51.1,394.0 72.8,401.2 73.0,414.1" fill="none" stroke="#262626" stroke-width="0.85" stroke-linejoin="round" />
<polyline points="44.1,371.0 44.6,376.1" fill="none" stroke="#e6e6e6" stroke-width="1.5" stroke-linejoin="round"/>
<polyline points="44.1,371.0 44.6,376.1" fill="none" stroke="#484848" stroke-width="0.7" stroke-dasharray="1.8 1.2" stroke-linejoin="round"/>
<polyline points="65.4,373.5 67.6,374.5 69.5,379.9 73.4,390.4 95.1,397.6 95.3,410.5" fill="none" stroke="#262626" stroke-width="0.85" stroke-linejoin="round" />
<polyline points="66.4,367.4 66.9,372.5" fill="none" stroke="#e6e6e6" stroke-width="1.5" stroke-linejoin="round"/>
<polyline points="66.4,367.4 66.9,372.5" fill="none" stroke="#484848" stroke-width="0.7" stroke-dasharray="1.8 1.2" stroke-linejoin="round"/>
<polyline points="59.4,407.7 59.4,420.1" fill="none" stroke="#484848" stroke-width="0.7" stroke-dasharray="1.8 1.2" stroke-linejoin="round"/>
<polyline points="52.2,405.7 58.3,407.2 59.4,408.6 59.4,420.1" fill="none" stroke="#484848" stroke-width="0.7" stroke-dasharray="1.8 1.2" stroke-linejoin="round"/>
<polyline points="81.7,404.1 81.7,416.5" fill="none" stroke="#484848" stroke-width="0.7" stroke-dasharray="1.8 1.2" stroke-linejoin="round"/>
<polyline points="104.0,400.6 104.0,413.0" fill="none" stroke="#484848" stroke-width="0.7" stroke-dasharray="1.8 1.2" stroke-linejoin="round"/>
<polyline points="50.5,418.7 59.4,421.1 126.8,409.7 126.8,397.0 124.3,396.3" fill="none" stroke="#e6e6e6" stroke-width="1.5" stroke-linejoin="round"/>
<polyline points="50.5,418.7 59.4,421.1 126.8,409.7 126.8,397.0 124.3,396.3" fill="none" stroke="#484848" stroke-width="0.7" stroke-dasharray="1.8 1.2" stroke-linejoin="round"/>
<polyline points="59.4,407.5 119.3,397.6" fill="none" stroke="#484848" stroke-width="0.7" stroke-dasharray="1.8 1.2" stroke-linejoin="round"/>
<text x="22.2" y="367.0" font-size="8.2" stroke="#1c1c1c" stroke-width="0.2" textLength="9.9" lengthAdjust="spacing">73</text>
<text x="46.7" y="362.7" font-size="8.2" stroke="#1c1c1c" stroke-width="0.2" textLength="9.9" lengthAdjust="spacing">73</text>
<text x="71.1" y="359.0" font-size="8.2" stroke="#1c1c1c" stroke-width="0.2" textLength="9.9" lengthAdjust="spacing">73</text>
<polygon points="182.6,379.5 192.6,381.9 195.5,392.9 195.5,407.1 182.6,404.3" fill="#a6a7a9" stroke="#262626" stroke-width="0.85" stroke-linejoin="round" />
<polygon points="192.6,381.9 223.1,377.1 223.1,388.1 195.5,392.9" fill="#a6a7a9" stroke="#262626" stroke-width="0.85" stroke-linejoin="round" />
<polygon points="224.5,377.1 255.0,382.4 252.1,392.9 224.5,388.1" fill="#a6a7a9" stroke="#262626" stroke-width="0.85" stroke-linejoin="round" />
<polygon points="255.0,382.4 264.5,379.5 264.5,404.3 252.6,407.1 252.6,392.9" fill="#a6a7a9" stroke="#262626" stroke-width="0.85" stroke-linejoin="round" />
<polygon points="182.6,375.7 214.0,369.5 223.1,372.4 223.1,377.1 192.6,381.9 182.6,379.5" fill="#a6a7a9" stroke="#262626" stroke-width="0.85" stroke-linejoin="round" />
<polyline points="182.6,375.7 192.6,378.1 223.1,372.7" fill="none" stroke="#262626" stroke-width="0.85" stroke-linejoin="round" />
<polyline points="192.6,378.1 192.6,381.9" fill="none" stroke="#262626" stroke-width="0.85" stroke-linejoin="round" />
<polygon points="224.5,372.4 233.1,369.5 264.5,375.7 264.5,379.5 255.0,382.4 224.5,377.1" fill="#a6a7a9" stroke="#262626" stroke-width="0.85" stroke-linejoin="round" />
<polyline points="224.5,372.7 255.0,378.6 264.5,375.7" fill="none" stroke="#262626" stroke-width="0.85" stroke-linejoin="round" />
<polyline points="255.0,378.6 255.0,382.4" fill="none" stroke="#262626" stroke-width="0.85" stroke-linejoin="round" />
<polyline points="223.8,372.4 223.8,388.1" fill="none" stroke="#262626" stroke-width="1.4" stroke-linejoin="round" />
<polygon points="195.5,392.9 223.1,388.1 252.1,392.9 228.8,400.5 219.3,400.5" fill="#a6a7a9" stroke="#262626" stroke-width="0.85" stroke-linejoin="round" />
<polygon points="195.5,392.9 219.3,400.5 219.3,414.3 195.5,407.1" fill="#a6a7a9" stroke="#262626" stroke-width="0.85" stroke-linejoin="round" />
<polygon points="219.3,400.5 228.8,400.5 229.3,414.3 218.8,414.3" fill="#a6a7a9" stroke="#262626" stroke-width="0.85" stroke-linejoin="round" />
<polygon points="228.8,400.5 252.1,392.9 252.6,407.1 229.3,414.3" fill="#a6a7a9" stroke="#262626" stroke-width="0.85" stroke-linejoin="round" />
<polyline points="389.4,374.1 389.4,358.6 436.3,358.6" fill="none" stroke="#262626" stroke-width="1.0" stroke-linejoin="round" />
<polygon points="436.3,358.3 461.7,358.3 461.7,384.5 436.3,384.5" fill="#d2d2d2" stroke="#262626" stroke-width="1.15" stroke-linejoin="round" />
<polygon points="436.9,370.5 440.2,368.7 442.2,366.2 446.8,363.1 450.3,361.4 453.4,362.9 456.9,363.0 461.1,361.9 461.1,383.9 436.9,383.9" fill="#a6a7a9" stroke="#262626" stroke-width="0" stroke-linejoin="round" />
<polyline points="437.1,370.2 440.2,368.7 442.2,366.2 446.8,363.1 450.3,361.4 453.4,362.9 456.9,363.0 461.0,361.9" fill="none" stroke="#262626" stroke-width="0.8" stroke-linejoin="round" />
<polyline points="442.2,366.2 444.2,371.3 447.3,377.9 451.8,382.4 455.4,384.2" fill="none" stroke="#262626" stroke-width="0.8" stroke-linejoin="round" />
<polyline points="447.8,366.7 449.8,366.2 452.3,366.7 453.9,368.0 461.0,371.8" fill="none" stroke="#262626" stroke-width="0.8" stroke-linejoin="round" />
<polyline points="448.3,366.7 449.0,373.3 451.3,378.9 453.9,382.4" fill="none" stroke="#262626" stroke-width="0.8" stroke-linejoin="round" />
<polyline points="453.4,362.9 454.1,366.2" fill="none" stroke="#262626" stroke-width="0.7" stroke-linejoin="round" />
<circle cx="440.7" cy="373.8" r="2.4" fill="#a6a7a9" stroke="#262626" stroke-width="0.8"/>
<polyline points="457.4,375.3 456.9,379.4" fill="none" stroke="#262626" stroke-width="0.5" stroke-linejoin="round" />
<polygon points="358.4,378.7 379.6,374.1 399.2,374.1 421.4,379.8 417.2,394.7 361.5,394.7" fill="#a6a7a9" stroke="#262626" stroke-width="0.85" stroke-linejoin="round" />
<polygon points="348.6,380.3 358.4,378.7 361.5,394.7 360.5,407.1 348.6,404.0" fill="#a6a7a9" stroke="#262626" stroke-width="0.85" stroke-linejoin="round" />
<polygon points="421.4,379.8 430.7,380.3 430.7,404.5 419.3,407.1 417.2,394.7" fill="#a6a7a9" stroke="#262626" stroke-width="0.85" stroke-linejoin="round" />
<polyline points="421.9,380.8 417.2,394.7" fill="none" stroke="#262626" stroke-width="0.85" stroke-linejoin="round" />
<polyline points="358.4,379.3 361.5,394.7" fill="none" stroke="#262626" stroke-width="0.85" stroke-linejoin="round" />
<polygon points="358.4,378.7 374.9,375.1 381.6,390.6 363.1,394.2" fill="#a6a7a9" stroke="#262626" stroke-width="0.85" stroke-linejoin="round" />
<polyline points="368.7,379.8 374.9,380.8" fill="none" stroke="#262626" stroke-width="0.6" stroke-linejoin="round" />
<polyline points="365.6,390.6 371.8,388.0 379.1,389.1" fill="none" stroke="#262626" stroke-width="0.6" stroke-linejoin="round" />
<polygon points="402.8,375.1 421.9,379.8 416.2,394.7 398.1,390.6" fill="#a6a7a9" stroke="#262626" stroke-width="0.85" stroke-linejoin="round" />
<polyline points="405.9,381.3 412.1,381.3" fill="none" stroke="#262626" stroke-width="0.6" stroke-linejoin="round" />
<polyline points="400.7,388.0 406.9,387.5 413.1,391.1" fill="none" stroke="#262626" stroke-width="0.6" stroke-linejoin="round" />
<polygon points="379.6,373.6 399.2,373.6 397.6,390.6 381.6,390.6" fill="#a6a7a9" stroke="#262626" stroke-width="0.85" stroke-linejoin="round" />
<polygon points="361.5,394.7 381.6,390.6 397.6,390.6 417.2,394.7 394.5,401.4 385.2,401.4" fill="#a6a7a9" stroke="#262626" stroke-width="0.85" stroke-linejoin="round" />
<polygon points="360.5,394.7 385.2,401.4 385.2,414.9 360.5,407.1" fill="#a6a7a9" stroke="#262626" stroke-width="0.85" stroke-linejoin="round" />
<polygon points="385.2,401.4 394.5,401.4 394.5,414.9 385.2,414.9" fill="#a6a7a9" stroke="#262626" stroke-width="0.85" stroke-linejoin="round" />
<polygon points="394.5,401.4 419.3,394.7 419.3,407.1 394.5,414.9" fill="#a6a7a9" stroke="#262626" stroke-width="0.85" stroke-linejoin="round" />
<polygon points="524.3,379.4 528.6,378.7 548.6,372.3 570.0,372.3 591.0,379.0 594.3,380.6 588.6,395.3 530.5,395.3" fill="#a6a7a9" stroke="#262626" stroke-width="0.85" stroke-linejoin="round" />
<polygon points="517.6,380.6 524.3,379.4 528.6,379.0 530.5,395.3 529.5,407.2 517.6,404.4" fill="#a6a7a9" stroke="#262626" stroke-width="0.85" stroke-linejoin="round" />
<polygon points="591.0,379.1 594.3,380.1 600.0,380.6 600.0,403.9 588.6,407.2 588.6,395.3" fill="#a6a7a9" stroke="#262626" stroke-width="0.85" stroke-linejoin="round" />
<polyline points="524.3,382.5 530.5,395.3" fill="none" stroke="#262626" stroke-width="0.85" stroke-linejoin="round" />
<polyline points="593.8,381.0 588.6,395.3" fill="none" stroke="#262626" stroke-width="0.85" stroke-linejoin="round" />
<polygon points="528.1,376.3 548.6,373.0 552.4,392.5 531.0,395.3" fill="#a6a7a9" stroke="#262626" stroke-width="0.85" stroke-linejoin="round" />
<polyline points="538.6,379.1 546.2,380.1" fill="none" stroke="#262626" stroke-width="0.6" stroke-linejoin="round" />
<polyline points="533.8,391.0 541.4,388.7 550.0,388.7" fill="none" stroke="#262626" stroke-width="0.6" stroke-linejoin="round" />
<polygon points="548.6,372.3 570.0,372.3 564.3,391.0 552.4,392.5" fill="#a6a7a9" stroke="#262626" stroke-width="0.85" stroke-linejoin="round" />
<polyline points="552.9,379.1 559.5,376.3" fill="none" stroke="#262626" stroke-width="0.6" stroke-linejoin="round" />
<polyline points="553.8,387.2 563.3,386.8" fill="none" stroke="#262626" stroke-width="0.6" stroke-linejoin="round" />
<polygon points="570.0,373.0 591.0,379.1 585.2,396.8 564.3,391.0" fill="#a6a7a9" stroke="#262626" stroke-width="0.85" stroke-linejoin="round" />
<polyline points="572.9,380.1 580.5,379.1" fill="none" stroke="#262626" stroke-width="0.6" stroke-linejoin="round" />
<polyline points="567.1,387.7 574.8,388.2 582.4,392.5" fill="none" stroke="#262626" stroke-width="0.6" stroke-linejoin="round" />
<polygon points="529.5,395.3 552.4,392.5 564.3,391.0 585.2,396.8 563.3,401.5 554.3,401.5" fill="#a6a7a9" stroke="#262626" stroke-width="0.85" stroke-linejoin="round" />
<polygon points="529.5,395.3 554.3,401.5 554.3,414.9 529.5,407.2" fill="#a6a7a9" stroke="#262626" stroke-width="0.85" stroke-linejoin="round" />
<polygon points="554.3,401.5 563.3,401.5 563.3,414.9 554.3,414.9" fill="#a6a7a9" stroke="#262626" stroke-width="0.85" stroke-linejoin="round" />
<polygon points="563.3,401.5 588.6,395.3 588.6,407.2 563.3,414.9" fill="#a6a7a9" stroke="#262626" stroke-width="0.85" stroke-linejoin="round" />
<polyline points="692.8,365.7 692.4,359.8 716.5,355.9 720.4,357.4 721.9,363.8" fill="none" stroke="#555" stroke-width="2.3" stroke-dasharray="1.8 1.0" stroke-linejoin="round"/>
<polyline points="692.8,365.7 692.4,359.8 716.5,355.9 720.4,357.4 721.9,363.8" fill="none" stroke="#e8e8e8" stroke-width="1.1" stroke-linejoin="round"/>
<polyline points="723.4,363.8 724.3,357.4 729.3,355.9 767.2,363.8 767.6,369.7" fill="none" stroke="#555" stroke-width="2.3" stroke-dasharray="1.8 1.0" stroke-linejoin="round"/>
<polyline points="723.4,363.8 724.3,357.4 729.3,355.9 767.2,363.8 767.6,369.7" fill="none" stroke="#e8e8e8" stroke-width="1.1" stroke-linejoin="round"/>
<polygon points="688.4,370.2 697.8,372.1 700.7,383.5 700.7,397.2 688.4,394.3" fill="#a6a7a9" stroke="#262626" stroke-width="0.85" stroke-linejoin="round" />
<polygon points="697.8,372.1 722.4,368.2 722.4,379.5 700.7,383.5" fill="#a6a7a9" stroke="#262626" stroke-width="0.85" stroke-linejoin="round" />
<polygon points="722.9,368.7 762.2,376.1 759.3,387.9 722.9,379.5" fill="#a6a7a9" stroke="#262626" stroke-width="0.85" stroke-linejoin="round" />
<polygon points="762.2,376.1 771.1,374.1 771.6,398.2 759.8,401.2 759.3,387.9" fill="#a6a7a9" stroke="#262626" stroke-width="0.85" stroke-linejoin="round" />
<polygon points="688.4,366.2 689.4,365.3 713.5,361.3 722.4,364.8 722.4,368.2 697.8,372.1 688.4,370.2" fill="#a6a7a9" stroke="#262626" stroke-width="0.85" stroke-linejoin="round" />
<polyline points="688.9,365.7 697.8,368.2 722.4,364.8" fill="none" stroke="#262626" stroke-width="0.85" stroke-linejoin="round" />
<polyline points="697.8,368.2 697.8,372.1" fill="none" stroke="#262626" stroke-width="0.8" stroke-linejoin="round" />
<polygon points="722.9,364.8 731.2,361.3 770.6,369.7 771.6,370.7 771.1,374.1 762.2,376.1 722.9,368.7" fill="#a6a7a9" stroke="#262626" stroke-width="0.85" stroke-linejoin="round" />
<polyline points="722.9,364.8 762.7,372.6 771.1,370.2" fill="none" stroke="#262626" stroke-width="0.85" stroke-linejoin="round" />
<polyline points="762.7,372.6 762.2,376.1" fill="none" stroke="#262626" stroke-width="0.8" stroke-linejoin="round" />
<polyline points="722.6,364.8 722.6,379.5" fill="none" stroke="#262626" stroke-width="1.3" stroke-linejoin="round" />
<polygon points="700.7,383.5 722.9,379.5 759.3,387.9 737.6,394.8" fill="#a6a7a9" stroke="#262626" stroke-width="0.85" stroke-linejoin="round" />
<polygon points="700.7,383.5 737.6,394.8 737.6,408.1 700.7,397.2" fill="#a6a7a9" stroke="#262626" stroke-width="0.85" stroke-linejoin="round" />
<polygon points="737.6,394.8 759.3,387.9 759.8,401.2 737.6,408.1" fill="#a6a7a9" stroke="#262626" stroke-width="0.85" stroke-linejoin="round" />
<polyline points="894.1,365.6 894.1,351.3 953.6,351.3" fill="none" stroke="#262626" stroke-width="1.0" stroke-linejoin="round" />
<polygon points="953.6,351.3 979.0,351.3 979.0,377.4 953.6,377.4" fill="#d2d2d2" stroke="#262626" stroke-width="1.15" stroke-linejoin="round" />
<polygon points="954.1,363.5 957.4,361.7 959.5,359.2 964.0,356.1 967.6,354.3 970.6,355.9 974.2,356.0 978.4,354.9 978.4,376.9 954.1,376.9" fill="#a6a7a9" stroke="#262626" stroke-width="0" stroke-linejoin="round" />
<polyline points="954.4,363.2 957.4,361.7 959.5,359.2 964.0,356.1 967.6,354.3 970.6,355.9 974.2,356.0 978.2,354.9" fill="none" stroke="#262626" stroke-width="0.8" stroke-linejoin="round" />
<polyline points="959.5,359.2 961.5,364.2 964.5,370.8 969.1,375.4 972.7,377.2" fill="none" stroke="#262626" stroke-width="0.8" stroke-linejoin="round" />
<polyline points="965.1,359.7 967.1,359.2 969.6,359.7 971.1,360.9 978.2,364.7" fill="none" stroke="#262626" stroke-width="0.8" stroke-linejoin="round" />
<polyline points="965.6,359.7 966.3,366.3 968.6,371.9 971.1,375.4" fill="none" stroke="#262626" stroke-width="0.8" stroke-linejoin="round" />
<polyline points="970.6,355.9 971.4,359.2" fill="none" stroke="#262626" stroke-width="0.7" stroke-linejoin="round" />
<circle cx="957.9" cy="366.8" r="2.4" fill="#a6a7a9" stroke="#262626" stroke-width="0.8"/>
<polyline points="974.7,368.3 974.2,372.4" fill="none" stroke="#262626" stroke-width="0.5" stroke-linejoin="round" />
<polygon points="863.2,368.5 882.1,365.0 883.8,363.3 903.8,363.3 906.1,364.5 923.3,367.9 940.5,372.5 936.5,387.4 866.6,384.5" fill="#a6a7a9" stroke="#262626" stroke-width="0.85" stroke-linejoin="round" />
<polygon points="855.2,370.2 863.2,368.5 866.6,384.5 866.6,397.1 855.2,394.2" fill="#a6a7a9" stroke="#262626" stroke-width="0.85" stroke-linejoin="round" />
<polygon points="940.5,372.5 948.5,373.6 948.5,397.1 936.5,400.0 936.5,387.4" fill="#a6a7a9" stroke="#262626" stroke-width="0.85" stroke-linejoin="round" />
<polyline points="863.2,369.0 867.2,384.5" fill="none" stroke="#262626" stroke-width="0.85" stroke-linejoin="round" />
<polyline points="941.0,373.6 936.5,387.4" fill="none" stroke="#262626" stroke-width="0.85" stroke-linejoin="round" />
<polygon points="863.2,368.5 881.5,365.4 885.5,380.5 867.2,383.9" fill="#a6a7a9" stroke="#262626" stroke-width="0.85" stroke-linejoin="round" />
<polyline points="871.8,369.6 878.6,370.8" fill="none" stroke="#262626" stroke-width="0.6" stroke-linejoin="round" />
<polyline points="869.5,381.1 876.3,378.8 883.2,378.8" fill="none" stroke="#262626" stroke-width="0.6" stroke-linejoin="round" />
<polygon points="905.0,364.5 923.3,367.9 919.8,383.4 902.1,379.9" fill="#a6a7a9" stroke="#262626" stroke-width="0.85" stroke-linejoin="round" />
<polyline points="908.4,370.2 914.1,369.6" fill="none" stroke="#262626" stroke-width="0.6" stroke-linejoin="round" />
<polyline points="905.0,377.6 911.8,377.6 917.6,379.4" fill="none" stroke="#262626" stroke-width="0.6" stroke-linejoin="round" />
<polygon points="923.3,367.9 940.5,372.5 935.3,387.4 919.8,383.4" fill="#a6a7a9" stroke="#262626" stroke-width="0.85" stroke-linejoin="round" />
<polyline points="924.4,373.6 931.3,373.6" fill="none" stroke="#262626" stroke-width="0.6" stroke-linejoin="round" />
<polyline points="922.1,380.5 927.9,381.1 933.6,383.9" fill="none" stroke="#262626" stroke-width="0.6" stroke-linejoin="round" />
<polygon points="883.4,363.3 903.8,363.3 901.5,379.9 885.5,380.5" fill="#a6a7a9" stroke="#262626" stroke-width="0.85" stroke-linejoin="round" />
<polygon points="866.6,384.5 885.5,380.5 901.5,379.9 919.8,383.4 935.9,387.9 907.3,394.8" fill="#a6a7a9" stroke="#262626" stroke-width="0.85" stroke-linejoin="round" />
<polygon points="866.6,384.5 907.3,394.8 907.3,408.6 866.6,397.1" fill="#a6a7a9" stroke="#262626" stroke-width="0.85" stroke-linejoin="round" />
<polygon points="907.3,394.8 935.9,387.9 936.5,400.0 907.3,408.6" fill="#a6a7a9" stroke="#262626" stroke-width="0.85" stroke-linejoin="round" />
<polygon points="1029.8,371.7 1046.5,362.8 1063.2,361.4 1084.9,362.8 1102.6,370.7 1096.7,388.4 1031.2,384.5" fill="#a6a7a9" stroke="#262626" stroke-width="0.85" stroke-linejoin="round" />
<polygon points="1022.4,373.2 1029.8,372.2 1033.7,384.5 1031.2,395.8 1022.4,393.3" fill="#a6a7a9" stroke="#262626" stroke-width="0.85" stroke-linejoin="round" />
<polygon points="1099.6,378.1 1107.5,379.1 1107.5,399.7 1098.7,401.2 1098.7,388.4" fill="#a6a7a9" stroke="#262626" stroke-width="0.85" stroke-linejoin="round" />
<polyline points="1029.8,373.2 1033.2,384.5" fill="none" stroke="#262626" stroke-width="0.85" stroke-linejoin="round" />
<polyline points="1100.6,379.1 1098.7,388.4" fill="none" stroke="#262626" stroke-width="0.85" stroke-linejoin="round" />
<polygon points="1063.2,361.8 1084.9,363.3 1076.5,381.5 1068.1,381.0" fill="#a6a7a9" stroke="#262626" stroke-width="0.85" stroke-linejoin="round" />
<polyline points="1068.1,366.8 1074.1,365.8" fill="none" stroke="#262626" stroke-width="0.6" stroke-linejoin="round" />
<polygon points="1029.3,366.8 1044.5,363.3 1047.5,382.5 1035.2,385.0" fill="#a6a7a9" stroke="#262626" stroke-width="0.85" stroke-linejoin="round" />
<polyline points="1039.6,368.7 1044.5,369.2" fill="none" stroke="#262626" stroke-width="0.6" stroke-linejoin="round" />
<polyline points="1037.6,380.5 1044.5,378.6" fill="none" stroke="#262626" stroke-width="0.6" stroke-linejoin="round" />
<polygon points="1045.0,364.3 1066.2,362.8 1068.1,381.5 1046.5,383.0" fill="#a6a7a9" stroke="#262626" stroke-width="0.85" stroke-linejoin="round" />
<polyline points="1054.4,367.3 1062.2,369.2" fill="none" stroke="#262626" stroke-width="0.6" stroke-linejoin="round" />
<polyline points="1050.4,378.6 1058.3,377.1 1066.2,378.6" fill="none" stroke="#262626" stroke-width="0.6" stroke-linejoin="round" />
<polygon points="1081.9,365.8 1102.6,370.7 1096.2,388.4 1075.5,383.0" fill="#a6a7a9" stroke="#262626" stroke-width="0.85" stroke-linejoin="round" />
<polyline points="1083.9,371.7 1090.8,371.7" fill="none" stroke="#262626" stroke-width="0.6" stroke-linejoin="round" />
<polyline points="1079.0,379.6 1085.9,380.1 1092.8,384.5" fill="none" stroke="#262626" stroke-width="0.6" stroke-linejoin="round" />
<polygon points="1031.2,384.5 1046.5,382.5 1068.1,381.5 1076.0,382.5 1096.7,388.4 1068.6,393.3" fill="#a6a7a9" stroke="#262626" stroke-width="0.85" stroke-linejoin="round" />
<polygon points="1031.2,384.5 1068.6,393.3 1068.6,406.6 1031.2,395.8" fill="#a6a7a9" stroke="#262626" stroke-width="0.85" stroke-linejoin="round" />
<polygon points="1068.6,393.3 1098.7,388.4 1098.7,401.2 1068.6,406.6" fill="#a6a7a9" stroke="#262626" stroke-width="0.85" stroke-linejoin="round" />
<polygon points="14.5,545.1 38.3,540.6 62.2,547.5 62.2,559.3 38.3,563.2 14.5,555.9" fill="#a6a7a9" stroke="#262626" stroke-width="0.95" stroke-linejoin="round" />
<polyline points="14.5,545.1 38.3,551.4 62.2,547.5" fill="none" stroke="#262626" stroke-width="0.85" stroke-linejoin="round" />
<polyline points="38.3,551.4 38.3,563.2" fill="none" stroke="#262626" stroke-width="0.8" stroke-linejoin="round" />
<polygon points="183.3,543.9 211.0,538.5 239.5,546.8 239.5,558.1 211.6,563.2 183.3,554.9" fill="#a6a7a9" stroke="#262626" stroke-width="0.95" stroke-linejoin="round" />
<polyline points="183.3,543.9 211.6,551.3 239.5,546.8" fill="none" stroke="#262626" stroke-width="0.85" stroke-linejoin="round" />
<polyline points="211.6,551.3 211.6,563.2" fill="none" stroke="#262626" stroke-width="0.8" stroke-linejoin="round" />
<polygon points="351.3,542.3 384.4,536.3 417.2,545.9 417.2,557.2 384.1,563.1 351.3,553.5" fill="#a6a7a9" stroke="#262626" stroke-width="0.95" stroke-linejoin="round" />
<polyline points="351.3,542.3 384.1,551.5 417.2,545.9" fill="none" stroke="#262626" stroke-width="0.85" stroke-linejoin="round" />
<polyline points="384.1,551.5 384.1,563.1" fill="none" stroke="#262626" stroke-width="0.8" stroke-linejoin="round" />
<polyline points="569.3,34.5 569.1,29.5 590.0,26.2 620.8,21.2 653.3,15.6 655.3,15.5 656.6,17.0 657.4,22.5" fill="none" stroke="#555" stroke-width="2.5" stroke-dasharray="1.8 1.0" stroke-linejoin="round"/>
<polyline points="569.3,34.5 569.1,29.5 590.0,26.2 620.8,21.2 653.3,15.6 655.3,15.5 656.6,17.0 657.4,22.5" fill="none" stroke="#e8e8e8" stroke-width="1.3000000000000003" stroke-linejoin="round"/>
<polyline points="572.9,34.5 572.8,30.2" fill="none" stroke="#e6e6e6" stroke-width="1.5" stroke-linejoin="round"/>
<polyline points="572.9,34.5 572.8,30.2" fill="none" stroke="#484848" stroke-width="0.7" stroke-dasharray="1.8 1.2" stroke-linejoin="round"/>
<polyline points="600.3,24.2 600.8,29.4" fill="none" stroke="#e6e6e6" stroke-width="1.5" stroke-linejoin="round"/>
<polyline points="600.3,24.2 600.8,29.4" fill="none" stroke="#484848" stroke-width="0.7" stroke-dasharray="1.8 1.2" stroke-linejoin="round"/>
<polyline points="630.1,19.8 630.6,25.5" fill="none" stroke="#e6e6e6" stroke-width="1.5" stroke-linejoin="round"/>
<polyline points="630.1,19.8 630.6,25.5" fill="none" stroke="#484848" stroke-width="0.7" stroke-dasharray="1.8 1.2" stroke-linejoin="round"/>
<polygon points="564.9,39.5 590.0,35.5 620.8,30.9 657.0,25.0 657.8,39.3 606.1,47.1 597.6,53.2 559.1,44.2 564.9,44.2" fill="#a6a7a9" stroke="#262626" stroke-width="0.85" stroke-linejoin="round" />
<polygon points="564.9,36.0 565.8,34.4 590.0,30.5 620.8,25.4 650.3,20.8 656.1,22.3 657.4,28.2 620.8,33.4 574.8,41.7 565.3,39.6" fill="#a6a7a9" stroke="#262626" stroke-width="0.85" stroke-linejoin="round" />
<polyline points="565.8,35.6 574.0,37.1 590.0,34.6 620.8,29.9 656.6,23.6" fill="none" stroke="#262626" stroke-width="0.85" stroke-linejoin="round" />
<polyline points="573.2,34.2 574.4,45.4" fill="none" stroke="#262626" stroke-width="0.85" stroke-linejoin="round" />
<polyline points="600.4,23.9 602.1,31.9 606.1,47.1" fill="none" stroke="#262626" stroke-width="0.85" stroke-linejoin="round" />
<polyline points="630.1,19.8 630.8,27.5 634.9,42.9" fill="none" stroke="#262626" stroke-width="0.85" stroke-linejoin="round" />
<polygon points="695.3,39.5 702.3,40.3 705.3,41.8 705.7,46.8 695.7,48.5" fill="#a6a7a9" stroke="#262626" stroke-width="0.85" stroke-linejoin="round" />
<polygon points="597.6,53.2 583.0,49.7 606.1,47.1 634.9,42.9 657.3,39.2 705.7,47.2 724.5,53.2 689.5,58.9 657.2,49.5 628.2,54.2 597.6,59.1" fill="#a6a7a9" stroke="#262626" stroke-width="0.85" stroke-linejoin="round" />
<polyline points="606.1,47.1 628.2,54.2" fill="none" stroke="#262626" stroke-width="0.85" stroke-linejoin="round" />
<polyline points="634.9,42.9 657.2,49.5" fill="none" stroke="#262626" stroke-width="0.85" stroke-linejoin="round" />
<polygon points="597.6,59.1 628.2,54.2 657.2,49.5 689.5,58.9 724.5,53.2 724.5,66.3 689.5,72.4 665.5,65.4 657.2,63.2 628.2,67.9 597.4,72.6" fill="#a6a7a9" stroke="#262626" stroke-width="0.85" stroke-linejoin="round" />
<polyline points="628.2,54.2 628.2,67.9" fill="none" stroke="#262626" stroke-width="0.85" stroke-linejoin="round" />
<polyline points="657.2,49.5 657.2,63.2" fill="none" stroke="#262626" stroke-width="0.85" stroke-linejoin="round" />
<polyline points="665.5,51.9 665.5,65.4" fill="none" stroke="#262626" stroke-width="0.85" stroke-linejoin="round" />
<polyline points="689.5,58.9 689.5,72.4" fill="none" stroke="#262626" stroke-width="0.85" stroke-linejoin="round" />
<polygon points="556.2,45.4 589.3,54.5 589.3,74.1 556.2,64.6" fill="#a6a7a9" stroke="#262626" stroke-width="0.85" stroke-linejoin="round" />
<polygon points="556.2,45.4 559.1,44.2 597.6,53.2 589.3,54.5" fill="#a6a7a9" stroke="#262626" stroke-width="0.85" stroke-linejoin="round" />
<polygon points="589.3,54.5 597.6,53.2 597.6,73.0 589.3,74.1" fill="#a6a7a9" stroke="#262626" stroke-width="0.85" stroke-linejoin="round" />
<polygon points="662.9,26.1 674.3,29.2 671.6,43.1 657.2,38.8" fill="#a6a7a9" stroke="#262626" stroke-width="0.85" stroke-linejoin="round" />
<polyline points="664.3,31.0 668.3,31.5" fill="none" stroke="#262626" stroke-width="0.6" stroke-linejoin="round" />
<polyline points="660.8,36.5 665.8,37.5 668.8,39.0" fill="none" stroke="#262626" stroke-width="0.6" stroke-linejoin="round" />
<polygon points="676.0,27.0 698.3,33.1 693.5,48.8 672.1,43.1" fill="#a6a7a9" stroke="#262626" stroke-width="0.85" stroke-linejoin="round" />
<polyline points="695.2,33.1 690.8,48.8" fill="none" stroke="#262626" stroke-width="0.85" stroke-linejoin="round" />
<polyline points="600.2,60.0 606.5,62.2 607.5,63.5 607.5,73.5" fill="none" stroke="#484848" stroke-width="0.7" stroke-dasharray="1.8 1.2" stroke-linejoin="round"/>
<polyline points="601.0,74.4 607.5,76.2 659.8,66.5" fill="none" stroke="#e6e6e6" stroke-width="1.5" stroke-linejoin="round"/>
<polyline points="601.0,74.4 607.5,76.2 659.8,66.5" fill="none" stroke="#484848" stroke-width="0.7" stroke-dasharray="1.8 1.2" stroke-linejoin="round"/>
<polyline points="607.5,62.5 626.5,59.0 635.3,57.6 637.1,58.9 637.8,60.6 637.8,68.6" fill="none" stroke="#484848" stroke-width="0.7" stroke-dasharray="1.8 1.2" stroke-linejoin="round"/>
<text x="574.4" y="23.3" font-size="8.2" stroke="#1c1c1c" stroke-width="0.2" textLength="9.9" lengthAdjust="spacing">93</text>
<text x="598.9" y="19.5" font-size="8.2" stroke="#1c1c1c" stroke-width="0.2" textLength="9.9" lengthAdjust="spacing">93</text>
<text x="624.0" y="14.9" font-size="8.2" stroke="#1c1c1c" stroke-width="0.2" textLength="9.9" lengthAdjust="spacing">83</text>
<text x="15.2" y="93.0" font-size="11" stroke="#1c1c1c" stroke-width="0.4" textLength="74.4" lengthAdjust="spacing">Composizione</text>
<text x="15.2" y="106.7" font-size="11" stroke="#1c1c1c" stroke-width="0.4" textLength="127.2" lengthAdjust="spacing">c/Penisola c/pouff Dx-Sx</text>
<text x="15.2" y="124.5" font-size="11" stroke="#1c1c1c" stroke-width="0.4" textLength="29.3" lengthAdjust="spacing">BR26</text>
<text x="48.1" y="124.5" font-size="11.5" stroke="#1c1c1c" stroke-width="0.2" textLength="120.5" lengthAdjust="spacing">L 264 P 225 H 80/102</text>
<text x="15.2" y="138.0" font-size="11" stroke="#1c1c1c" stroke-width="0.4" textLength="28.7" lengthAdjust="spacing">BR21</text>
<text x="48.1" y="138.0" font-size="11.5" stroke="#1c1c1c" stroke-width="0.2" textLength="120.5" lengthAdjust="spacing">L 254 P 225 H 80/102</text>
<text x="15.2" y="151.6" font-size="11" stroke="#1c1c1c" stroke-width="0.4" textLength="27.9" lengthAdjust="spacing">BR11</text>
<text x="48.1" y="151.6" font-size="11.5" stroke="#1c1c1c" stroke-width="0.2" textLength="119.6" lengthAdjust="spacing">L 234 P 225 H 80/102</text>
<text x="194.2" y="93.0" font-size="11" stroke="#1c1c1c" stroke-width="0.4" textLength="74.1" lengthAdjust="spacing">Composizione</text>
<text x="194.2" y="106.7" font-size="11" stroke="#1c1c1c" stroke-width="0.4" textLength="127.0" lengthAdjust="spacing">c/Penisola c/pouff Dx-Sx</text>
<text x="194.2" y="124.5" font-size="11" stroke="#1c1c1c" stroke-width="0.4" textLength="29.3" lengthAdjust="spacing">BR26</text>
<text x="227.1" y="124.5" font-size="11.5" stroke="#1c1c1c" stroke-width="0.2" textLength="120.7" lengthAdjust="spacing">L 284 P 225 H 80/102</text>
<text x="194.2" y="138.0" font-size="11" stroke="#1c1c1c" stroke-width="0.4" textLength="28.7" lengthAdjust="spacing">BR21</text>
<text x="227.1" y="138.0" font-size="11.5" stroke="#1c1c1c" stroke-width="0.2" textLength="119.9" lengthAdjust="spacing">L 274 P 225 H 80/102</text>
<text x="194.2" y="151.6" font-size="11" stroke="#1c1c1c" stroke-width="0.4" textLength="27.9" lengthAdjust="spacing">BR11</text>
<text x="227.1" y="151.6" font-size="11.5" stroke="#1c1c1c" stroke-width="0.2" textLength="119.9" lengthAdjust="spacing">L 254 P 225 H 80/102</text>
<text x="373.5" y="93.0" font-size="11" stroke="#1c1c1c" stroke-width="0.4" textLength="74.2" lengthAdjust="spacing">Composizione</text>
<text x="373.5" y="106.7" font-size="11" stroke="#1c1c1c" stroke-width="0.4" textLength="127.5" lengthAdjust="spacing">c/Penisola c/pouff Dx-Sx</text>
<text x="373.5" y="124.5" font-size="11" stroke="#1c1c1c" stroke-width="0.4" textLength="29.3" lengthAdjust="spacing">BR26</text>
<text x="406.4" y="124.5" font-size="11.5" stroke="#1c1c1c" stroke-width="0.2" textLength="121.3" lengthAdjust="spacing">L 304 P 225 H 80/102</text>
<text x="373.5" y="138.0" font-size="11" stroke="#1c1c1c" stroke-width="0.4" textLength="28.7" lengthAdjust="spacing">BR21</text>
<text x="406.4" y="138.0" font-size="11.5" stroke="#1c1c1c" stroke-width="0.2" textLength="120.4" lengthAdjust="spacing">L 294 P 225 H 80/102</text>
<text x="373.5" y="151.6" font-size="11" stroke="#1c1c1c" stroke-width="0.4" textLength="27.9" lengthAdjust="spacing">BR11</text>
<text x="406.4" y="151.6" font-size="11.5" stroke="#1c1c1c" stroke-width="0.2" textLength="119.4" lengthAdjust="spacing">L 274 P 225 H 80/102</text>
<text x="554.0" y="93.0" font-size="11" stroke="#1c1c1c" stroke-width="0.4" textLength="74.1" lengthAdjust="spacing">Composizione</text>
<text x="554.0" y="106.7" font-size="11" stroke="#1c1c1c" stroke-width="0.4" textLength="127.2" lengthAdjust="spacing">c/Penisola c/pouff Dx-Sx</text>
<text x="554.0" y="124.5" font-size="11" stroke="#1c1c1c" stroke-width="0.4" textLength="29.3" lengthAdjust="spacing">BR26</text>
<text x="586.9" y="124.5" font-size="11.5" stroke="#1c1c1c" stroke-width="0.2" textLength="121.0" lengthAdjust="spacing">L 324 P 225 H 80/102</text>
<text x="554.0" y="138.0" font-size="11" stroke="#1c1c1c" stroke-width="0.4" textLength="28.7" lengthAdjust="spacing">BR21</text>
<text x="586.9" y="138.0" font-size="11.5" stroke="#1c1c1c" stroke-width="0.2" textLength="118.8" lengthAdjust="spacing">L 314 P 225 H 80/102</text>
<text x="554.0" y="151.6" font-size="11" stroke="#1c1c1c" stroke-width="0.4" textLength="27.9" lengthAdjust="spacing">BR11</text>
<text x="586.9" y="151.6" font-size="11.5" stroke="#1c1c1c" stroke-width="0.2" textLength="118.8" lengthAdjust="spacing">L 294 P 225 H 80/102</text>
<text x="14.7" y="274.2" font-size="11" stroke="#1c1c1c" stroke-width="0.4" textLength="120.4" lengthAdjust="spacing">Poltrona laterale Dx-Sx</text>
<text x="14.7" y="293.2" font-size="11" stroke="#1c1c1c" stroke-width="0.4" textLength="29.3" lengthAdjust="spacing">BR26</text>
<text x="47.6" y="293.2" font-size="11.5" stroke="#1c1c1c" stroke-width="0.2" textLength="118.6" lengthAdjust="spacing">L 100 P 110 H 80/102</text>
<text x="14.7" y="306.9" font-size="11" stroke="#1c1c1c" stroke-width="0.4" textLength="28.7" lengthAdjust="spacing">BR21</text>
<text x="47.6" y="306.9" font-size="11.5" stroke="#1c1c1c" stroke-width="0.2" textLength="111.4" lengthAdjust="spacing">L 95 P 110 H 80/102</text>
<text x="14.7" y="320.6" font-size="11" stroke="#1c1c1c" stroke-width="0.4" textLength="27.9" lengthAdjust="spacing">BR11</text>
<text x="47.6" y="320.6" font-size="11.5" stroke="#1c1c1c" stroke-width="0.2" textLength="110.5" lengthAdjust="spacing">L 85 P 110 H 80/102</text>
<text x="183.1" y="274.2" font-size="11" stroke="#1c1c1c" stroke-width="0.4" textLength="120.1" lengthAdjust="spacing">Poltrona laterale Dx-Sx</text>
<text x="183.1" y="293.2" font-size="11" stroke="#1c1c1c" stroke-width="0.4" textLength="29.3" lengthAdjust="spacing">BR26</text>
<text x="216.0" y="293.2" font-size="11.5" stroke="#1c1c1c" stroke-width="0.2" textLength="116.9" lengthAdjust="spacing">L 110 P 110 H 80/102</text>
<text x="183.1" y="306.9" font-size="11" stroke="#1c1c1c" stroke-width="0.4" textLength="28.7" lengthAdjust="spacing">BR21</text>
<text x="216.0" y="306.9" font-size="11.5" stroke="#1c1c1c" stroke-width="0.2" textLength="118.0" lengthAdjust="spacing">L 105 P 110 H 80/102</text>
<text x="183.1" y="320.6" font-size="11" stroke="#1c1c1c" stroke-width="0.4" textLength="27.9" lengthAdjust="spacing">BR11</text>
<text x="216.0" y="320.6" font-size="11.5" stroke="#1c1c1c" stroke-width="0.2" textLength="110.2" lengthAdjust="spacing">L 95 P 110 H 80/102</text>
<text x="350.4" y="274.2" font-size="11" stroke="#1c1c1c" stroke-width="0.4" textLength="120.6" lengthAdjust="spacing">Poltrona laterale Dx-Sx</text>
<text x="350.4" y="293.2" font-size="11" stroke="#1c1c1c" stroke-width="0.4" textLength="29.3" lengthAdjust="spacing">BR26</text>
<text x="383.3" y="293.2" font-size="11.5" stroke="#1c1c1c" stroke-width="0.2" textLength="118.6" lengthAdjust="spacing">L 120 P 110 H 80/102</text>
<text x="350.4" y="306.9" font-size="11" stroke="#1c1c1c" stroke-width="0.4" textLength="28.7" lengthAdjust="spacing">BR21</text>
<text x="383.3" y="306.9" font-size="11.5" stroke="#1c1c1c" stroke-width="0.2" textLength="116.6" lengthAdjust="spacing">L 115 P 110 H 80/102</text>
<text x="350.4" y="320.6" font-size="11" stroke="#1c1c1c" stroke-width="0.4" textLength="27.9" lengthAdjust="spacing">BR11</text>
<text x="383.3" y="320.6" font-size="11.5" stroke="#1c1c1c" stroke-width="0.2" textLength="116.6" lengthAdjust="spacing">L 105 P 110 H 80/102</text>
<text x="517.6" y="274.2" font-size="11" stroke="#1c1c1c" stroke-width="0.4" textLength="112.0" lengthAdjust="spacing">Divano laterale Dx-Sx</text>
<text x="517.6" y="293.2" font-size="11" stroke="#1c1c1c" stroke-width="0.4" textLength="29.3" lengthAdjust="spacing">BR26</text>
<text x="550.5" y="293.2" font-size="11.5" stroke="#1c1c1c" stroke-width="0.2" textLength="118.0" lengthAdjust="spacing">L 154 P 110 H 80/102</text>
<text x="517.6" y="306.9" font-size="11" stroke="#1c1c1c" stroke-width="0.4" textLength="28.7" lengthAdjust="spacing">BR21</text>
<text x="550.5" y="306.9" font-size="11.5" stroke="#1c1c1c" stroke-width="0.2" textLength="117.2" lengthAdjust="spacing">L 149 P 110 H 80/102</text>
<text x="517.6" y="320.6" font-size="11" stroke="#1c1c1c" stroke-width="0.4" textLength="27.9" lengthAdjust="spacing">BR11</text>
<text x="550.5" y="320.6" font-size="11.5" stroke="#1c1c1c" stroke-width="0.2" textLength="116.6" lengthAdjust="spacing">L 139 P 110 H 80/102</text>
<text x="687.0" y="274.2" font-size="11" stroke="#1c1c1c" stroke-width="0.4" textLength="112.7" lengthAdjust="spacing">Divano laterale Dx-Sx</text>
<text x="687.0" y="293.2" font-size="11" stroke="#1c1c1c" stroke-width="0.4" textLength="29.3" lengthAdjust="spacing">BR26</text>
<text x="719.9" y="293.2" font-size="11.5" stroke="#1c1c1c" stroke-width="0.2" textLength="118.4" lengthAdjust="spacing">L 174 P 110 H 80/102</text>
<text x="687.0" y="306.9" font-size="11" stroke="#1c1c1c" stroke-width="0.4" textLength="28.7" lengthAdjust="spacing">BR21</text>
<text x="719.9" y="306.9" font-size="11.5" stroke="#1c1c1c" stroke-width="0.2" textLength="117.1" lengthAdjust="spacing">L 169 P 110 H 80/102</text>
<text x="687.0" y="320.6" font-size="11" stroke="#1c1c1c" stroke-width="0.4" textLength="27.9" lengthAdjust="spacing">BR11</text>
<text x="719.9" y="320.6" font-size="11.5" stroke="#1c1c1c" stroke-width="0.2" textLength="117.1" lengthAdjust="spacing">L 159 P 110 H 80/102</text>
<text x="853.8" y="274.2" font-size="11" stroke="#1c1c1c" stroke-width="0.4" textLength="112.7" lengthAdjust="spacing">Divano laterale Dx-Sx</text>
<text x="853.8" y="293.2" font-size="11" stroke="#1c1c1c" stroke-width="0.4" textLength="29.3" lengthAdjust="spacing">BR26</text>
<text x="886.7" y="293.2" font-size="11.5" stroke="#1c1c1c" stroke-width="0.2" textLength="118.3" lengthAdjust="spacing">L 194 P 110 H 80/102</text>
<text x="853.8" y="306.9" font-size="11" stroke="#1c1c1c" stroke-width="0.4" textLength="28.7" lengthAdjust="spacing">BR21</text>
<text x="886.7" y="306.9" font-size="11.5" stroke="#1c1c1c" stroke-width="0.2" textLength="117.4" lengthAdjust="spacing">L 189 P 110 H 80/102</text>
<text x="853.8" y="320.6" font-size="11" stroke="#1c1c1c" stroke-width="0.4" textLength="27.9" lengthAdjust="spacing">BR11</text>
<text x="886.7" y="320.6" font-size="11.5" stroke="#1c1c1c" stroke-width="0.2" textLength="116.2" lengthAdjust="spacing">L 179 P 110 H 80/102</text>
<text x="1021.4" y="274.2" font-size="11" stroke="#1c1c1c" stroke-width="0.4" textLength="113.1" lengthAdjust="spacing">Divano laterale Dx-Sx</text>
<text x="1021.4" y="293.2" font-size="11" stroke="#1c1c1c" stroke-width="0.4" textLength="29.3" lengthAdjust="spacing">BR26</text>
<text x="1054.3" y="293.2" font-size="11.5" stroke="#1c1c1c" stroke-width="0.2" textLength="118.3" lengthAdjust="spacing">L 214 P 110 H 80/102</text>
<text x="1021.4" y="306.9" font-size="11" stroke="#1c1c1c" stroke-width="0.4" textLength="28.7" lengthAdjust="spacing">BR21</text>
<text x="1054.3" y="306.9" font-size="11.5" stroke="#1c1c1c" stroke-width="0.2" textLength="117.9" lengthAdjust="spacing">L 209 P 110 H 80/102</text>
<text x="1021.4" y="320.6" font-size="11" stroke="#1c1c1c" stroke-width="0.4" textLength="27.9" lengthAdjust="spacing">BR11</text>
<text x="1054.3" y="320.6" font-size="11.5" stroke="#1c1c1c" stroke-width="0.2" textLength="115.7" lengthAdjust="spacing">L 199 P 110 H 80/102</text>
<text x="15.8" y="442.9" font-size="11" stroke="#1c1c1c" stroke-width="0.4" textLength="112.3" lengthAdjust="spacing">Divano laterale Dx-Sx</text>
<text x="15.8" y="462.3" font-size="11" stroke="#1c1c1c" stroke-width="0.4" textLength="29.3" lengthAdjust="spacing">BR26</text>
<text x="48.7" y="462.3" font-size="11.5" stroke="#1c1c1c" stroke-width="0.2" textLength="118.9" lengthAdjust="spacing">L 246 P 110 H 80/102</text>
<text x="15.8" y="476.1" font-size="11" stroke="#1c1c1c" stroke-width="0.4" textLength="28.7" lengthAdjust="spacing">BR21</text>
<text x="48.7" y="476.1" font-size="11.5" stroke="#1c1c1c" stroke-width="0.2" textLength="118.1" lengthAdjust="spacing">L 241 P 110 H 80/102</text>
<text x="15.8" y="489.4" font-size="11" stroke="#1c1c1c" stroke-width="0.4" textLength="27.9" lengthAdjust="spacing">BR11</text>
<text x="48.7" y="489.4" font-size="11.5" stroke="#1c1c1c" stroke-width="0.2" textLength="116.9" lengthAdjust="spacing">L 231 P 110 H 80/102</text>
<text x="182.8" y="442.9" font-size="11" stroke="#1c1c1c" stroke-width="0.4" textLength="75.1" lengthAdjust="spacing">Angolo aperto</text>
<text x="182.6" y="461.7" font-size="11.5" stroke="#1c1c1c" stroke-width="0.2" textLength="93.8" lengthAdjust="spacing">L 125 P 125 H 80</text>
<text x="350.4" y="442.9" font-size="11" stroke="#1c1c1c" stroke-width="0.4" textLength="75.6" lengthAdjust="spacing">Angolo aperto</text>
<text x="350.4" y="457.0" font-size="11" stroke="#1c1c1c" stroke-width="0.4" textLength="99.6" lengthAdjust="spacing">c/Cuscino con rullo</text>
<text x="350.2" y="472.6" font-size="11.5" stroke="#1c1c1c" stroke-width="0.2" textLength="94.0" lengthAdjust="spacing">L 125 P 125 H 80</text>
<text x="517.6" y="442.4" font-size="11" stroke="#1c1c1c" stroke-width="0.4" textLength="75.1" lengthAdjust="spacing">Angolo aperto</text>
<text x="517.6" y="456.1" font-size="11" stroke="#1c1c1c" stroke-width="0.4" textLength="46.8" lengthAdjust="spacing">c/Cuscini</text>
<text x="517.4" y="471.8" font-size="11.5" stroke="#1c1c1c" stroke-width="0.2" textLength="94.0" lengthAdjust="spacing">L 125 P 125 H 80</text>
<text x="688.7" y="442.0" font-size="11" stroke="#1c1c1c" stroke-width="0.4" textLength="100.5" lengthAdjust="spacing">Angolo retto Dx-Sx</text>
<text x="688.5" y="460.6" font-size="11.5" stroke="#1c1c1c" stroke-width="0.2" textLength="118.0" lengthAdjust="spacing">L 108 P 148 H 80/102</text>
<text x="854.6" y="441.6" font-size="11" stroke="#1c1c1c" stroke-width="0.4" textLength="67.0" lengthAdjust="spacing">Angolo retto</text>
<text x="854.6" y="455.3" font-size="11" stroke="#1c1c1c" stroke-width="0.4" textLength="132.6" lengthAdjust="spacing">c/Cuscino con rullo Dx-Sx</text>
<text x="854.4" y="472.1" font-size="11.5" stroke="#1c1c1c" stroke-width="0.2" textLength="93.5" lengthAdjust="spacing">L 108 P 148 H 80</text>
<text x="1021.8" y="441.6" font-size="11" stroke="#1c1c1c" stroke-width="0.4" textLength="67.0" lengthAdjust="spacing">Angolo retto</text>
<text x="1021.8" y="455.3" font-size="11" stroke="#1c1c1c" stroke-width="0.4" textLength="80.5" lengthAdjust="spacing">c/Cuscini Dx-Sx</text>
<text x="1021.6" y="472.3" font-size="11.5" stroke="#1c1c1c" stroke-width="0.2" textLength="93.8" lengthAdjust="spacing">L 108 P 148 H 80</text>
<text x="13.8" y="593.5" font-size="11" stroke="#1c1c1c" stroke-width="0.4" textLength="27.7" lengthAdjust="spacing">Pouff</text>
<text x="13.6" y="612.2" font-size="11.5" stroke="#1c1c1c" stroke-width="0.2" textLength="80.1" lengthAdjust="spacing">L 75 P 75 H 42</text>
<text x="184.3" y="593.5" font-size="11" stroke="#1c1c1c" stroke-width="0.4" textLength="27.7" lengthAdjust="spacing">Pouff</text>
<text x="184.1" y="612.2" font-size="11.5" stroke="#1c1c1c" stroke-width="0.2" textLength="81.3" lengthAdjust="spacing">L 95 P 95 H 42</text>
<text x="349.7" y="593.5" font-size="11" stroke="#1c1c1c" stroke-width="0.4" textLength="27.7" lengthAdjust="spacing">Pouff</text>
<text x="349.5" y="612.2" font-size="11.5" stroke="#1c1c1c" stroke-width="0.2" textLength="92.4" lengthAdjust="spacing">L 115 P 115 H 42</text>
</svg>
</body></html>
